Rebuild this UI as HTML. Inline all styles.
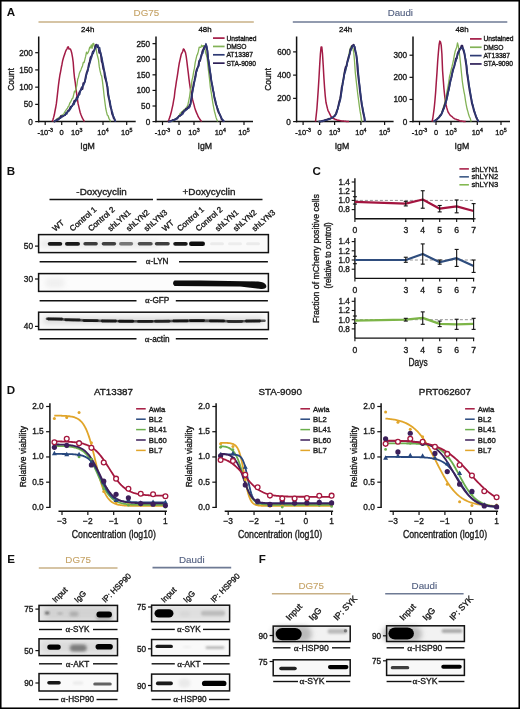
<!DOCTYPE html>
<html><head><meta charset="utf-8"><style>
html,body{margin:0;padding:0;background:#fff}
svg{display:block;will-change:transform;filter:blur(0.3px)}
text{font-family:"Liberation Sans", sans-serif}
</style></head><body>
<svg width="520" height="709" viewBox="0 0 520 709">
<rect x="0" y="0" width="520" height="709" fill="#fff"/>
<line x1="38.7" y1="36.5" x2="38.7" y2="122.3" stroke="#111" stroke-width="1.5"/>
<line x1="38" y1="121.6" x2="135.7" y2="121.6" stroke="#111" stroke-width="1.5"/>
<line x1="35.2" y1="121.6" x2="38.7" y2="121.6" stroke="#111" stroke-width="1.2"/>
<text x="32.9" y="124.55" font-size="8.2" fill="#1a1a1a" stroke="#1a1a1a" stroke-width="0.35" text-anchor="end">0</text>
<line x1="35.2" y1="104.38" x2="38.7" y2="104.38" stroke="#111" stroke-width="1.2"/>
<text x="32.9" y="107.33" font-size="8.2" fill="#1a1a1a" stroke="#1a1a1a" stroke-width="0.35" text-anchor="end">50</text>
<line x1="35.2" y1="87.15" x2="38.7" y2="87.15" stroke="#111" stroke-width="1.2"/>
<text x="32.9" y="90.1" font-size="8.2" fill="#1a1a1a" stroke="#1a1a1a" stroke-width="0.35" text-anchor="end">100</text>
<line x1="35.2" y1="69.92" x2="38.7" y2="69.92" stroke="#111" stroke-width="1.2"/>
<text x="32.9" y="72.88" font-size="8.2" fill="#1a1a1a" stroke="#1a1a1a" stroke-width="0.35" text-anchor="end">150</text>
<line x1="35.2" y1="52.7" x2="38.7" y2="52.7" stroke="#111" stroke-width="1.2"/>
<text x="32.9" y="55.65" font-size="8.2" fill="#1a1a1a" stroke="#1a1a1a" stroke-width="0.35" text-anchor="end">200</text>
<line x1="45.2" y1="121.6" x2="45.2" y2="125.1" stroke="#111" stroke-width="1.2"/>
<line x1="61.7" y1="121.6" x2="61.7" y2="125.1" stroke="#111" stroke-width="1.2"/>
<line x1="76.7" y1="121.6" x2="76.7" y2="125.1" stroke="#111" stroke-width="1.2"/>
<line x1="103" y1="121.6" x2="103" y2="125.1" stroke="#111" stroke-width="1.2"/>
<line x1="126.7" y1="121.6" x2="126.7" y2="125.1" stroke="#111" stroke-width="1.2"/>
<text x="45.2" y="135.2" font-size="7.5" fill="#1a1a1a" stroke="#1a1a1a" stroke-width="0.35" text-anchor="middle">-10<tspan font-size="5.3" dy="-3">-3</tspan></text>
<text x="61.7" y="135.2" font-size="7.5" fill="#1a1a1a" stroke="#1a1a1a" stroke-width="0.35" text-anchor="middle">0</text>
<text x="76.7" y="135.2" font-size="7.5" fill="#1a1a1a" stroke="#1a1a1a" stroke-width="0.35" text-anchor="middle">10<tspan font-size="5.3" dy="-3">3</tspan></text>
<text x="103" y="135.2" font-size="7.5" fill="#1a1a1a" stroke="#1a1a1a" stroke-width="0.35" text-anchor="middle">10<tspan font-size="5.3" dy="-3">4</tspan></text>
<text x="126.7" y="135.2" font-size="7.5" fill="#1a1a1a" stroke="#1a1a1a" stroke-width="0.35" text-anchor="middle">10<tspan font-size="5.3" dy="-3">5</tspan></text>
<text x="87.6" y="148.6" font-size="9" fill="#1a1a1a" stroke="#1a1a1a" stroke-width="0.35" text-anchor="middle" textLength="14.6" lengthAdjust="spacingAndGlyphs">IgM</text>
<line x1="156" y1="36.5" x2="156" y2="122.3" stroke="#111" stroke-width="1.5"/>
<line x1="155.3" y1="121.6" x2="253" y2="121.6" stroke="#111" stroke-width="1.5"/>
<line x1="152.5" y1="121.6" x2="156" y2="121.6" stroke="#111" stroke-width="1.2"/>
<text x="150.2" y="124.55" font-size="8.2" fill="#1a1a1a" stroke="#1a1a1a" stroke-width="0.35" text-anchor="end">0</text>
<line x1="152.5" y1="106.01" x2="156" y2="106.01" stroke="#111" stroke-width="1.2"/>
<text x="150.2" y="108.96" font-size="8.2" fill="#1a1a1a" stroke="#1a1a1a" stroke-width="0.35" text-anchor="end">50</text>
<line x1="152.5" y1="90.42" x2="156" y2="90.42" stroke="#111" stroke-width="1.2"/>
<text x="150.2" y="93.37" font-size="8.2" fill="#1a1a1a" stroke="#1a1a1a" stroke-width="0.35" text-anchor="end">100</text>
<line x1="152.5" y1="74.83" x2="156" y2="74.83" stroke="#111" stroke-width="1.2"/>
<text x="150.2" y="77.78" font-size="8.2" fill="#1a1a1a" stroke="#1a1a1a" stroke-width="0.35" text-anchor="end">150</text>
<line x1="152.5" y1="59.24" x2="156" y2="59.24" stroke="#111" stroke-width="1.2"/>
<text x="150.2" y="62.19" font-size="8.2" fill="#1a1a1a" stroke="#1a1a1a" stroke-width="0.35" text-anchor="end">200</text>
<line x1="152.5" y1="43.65" x2="156" y2="43.65" stroke="#111" stroke-width="1.2"/>
<text x="150.2" y="46.6" font-size="8.2" fill="#1a1a1a" stroke="#1a1a1a" stroke-width="0.35" text-anchor="end">250</text>
<line x1="162.5" y1="121.6" x2="162.5" y2="125.1" stroke="#111" stroke-width="1.2"/>
<line x1="179" y1="121.6" x2="179" y2="125.1" stroke="#111" stroke-width="1.2"/>
<line x1="194" y1="121.6" x2="194" y2="125.1" stroke="#111" stroke-width="1.2"/>
<line x1="220.3" y1="121.6" x2="220.3" y2="125.1" stroke="#111" stroke-width="1.2"/>
<line x1="244" y1="121.6" x2="244" y2="125.1" stroke="#111" stroke-width="1.2"/>
<text x="162.5" y="135.2" font-size="7.5" fill="#1a1a1a" stroke="#1a1a1a" stroke-width="0.35" text-anchor="middle">-10<tspan font-size="5.3" dy="-3">-3</tspan></text>
<text x="179" y="135.2" font-size="7.5" fill="#1a1a1a" stroke="#1a1a1a" stroke-width="0.35" text-anchor="middle">0</text>
<text x="194" y="135.2" font-size="7.5" fill="#1a1a1a" stroke="#1a1a1a" stroke-width="0.35" text-anchor="middle">10<tspan font-size="5.3" dy="-3">3</tspan></text>
<text x="220.3" y="135.2" font-size="7.5" fill="#1a1a1a" stroke="#1a1a1a" stroke-width="0.35" text-anchor="middle">10<tspan font-size="5.3" dy="-3">4</tspan></text>
<text x="244" y="135.2" font-size="7.5" fill="#1a1a1a" stroke="#1a1a1a" stroke-width="0.35" text-anchor="middle">10<tspan font-size="5.3" dy="-3">5</tspan></text>
<text x="204.8" y="148.6" font-size="9" fill="#1a1a1a" stroke="#1a1a1a" stroke-width="0.35" text-anchor="middle" textLength="14.6" lengthAdjust="spacingAndGlyphs">IgM</text>
<line x1="296.6" y1="36.5" x2="296.6" y2="122.3" stroke="#111" stroke-width="1.5"/>
<line x1="295.9" y1="121.6" x2="393.6" y2="121.6" stroke="#111" stroke-width="1.5"/>
<line x1="293.1" y1="121.6" x2="296.6" y2="121.6" stroke="#111" stroke-width="1.2"/>
<text x="290.8" y="124.55" font-size="8.2" fill="#1a1a1a" stroke="#1a1a1a" stroke-width="0.35" text-anchor="end">0</text>
<line x1="293.1" y1="98.36" x2="296.6" y2="98.36" stroke="#111" stroke-width="1.2"/>
<text x="290.8" y="101.31" font-size="8.2" fill="#1a1a1a" stroke="#1a1a1a" stroke-width="0.35" text-anchor="end">200</text>
<line x1="293.1" y1="75.12" x2="296.6" y2="75.12" stroke="#111" stroke-width="1.2"/>
<text x="290.8" y="78.07" font-size="8.2" fill="#1a1a1a" stroke="#1a1a1a" stroke-width="0.35" text-anchor="end">400</text>
<line x1="293.1" y1="51.88" x2="296.6" y2="51.88" stroke="#111" stroke-width="1.2"/>
<text x="290.8" y="54.83" font-size="8.2" fill="#1a1a1a" stroke="#1a1a1a" stroke-width="0.35" text-anchor="end">600</text>
<line x1="303.1" y1="121.6" x2="303.1" y2="125.1" stroke="#111" stroke-width="1.2"/>
<line x1="319.6" y1="121.6" x2="319.6" y2="125.1" stroke="#111" stroke-width="1.2"/>
<line x1="334.6" y1="121.6" x2="334.6" y2="125.1" stroke="#111" stroke-width="1.2"/>
<line x1="360.9" y1="121.6" x2="360.9" y2="125.1" stroke="#111" stroke-width="1.2"/>
<line x1="384.6" y1="121.6" x2="384.6" y2="125.1" stroke="#111" stroke-width="1.2"/>
<text x="303.1" y="135.2" font-size="7.5" fill="#1a1a1a" stroke="#1a1a1a" stroke-width="0.35" text-anchor="middle">-10<tspan font-size="5.3" dy="-3">-3</tspan></text>
<text x="319.6" y="135.2" font-size="7.5" fill="#1a1a1a" stroke="#1a1a1a" stroke-width="0.35" text-anchor="middle">0</text>
<text x="334.6" y="135.2" font-size="7.5" fill="#1a1a1a" stroke="#1a1a1a" stroke-width="0.35" text-anchor="middle">10<tspan font-size="5.3" dy="-3">3</tspan></text>
<text x="360.9" y="135.2" font-size="7.5" fill="#1a1a1a" stroke="#1a1a1a" stroke-width="0.35" text-anchor="middle">10<tspan font-size="5.3" dy="-3">4</tspan></text>
<text x="384.6" y="135.2" font-size="7.5" fill="#1a1a1a" stroke="#1a1a1a" stroke-width="0.35" text-anchor="middle">10<tspan font-size="5.3" dy="-3">5</tspan></text>
<text x="342" y="148.6" font-size="9" fill="#1a1a1a" stroke="#1a1a1a" stroke-width="0.35" text-anchor="middle" textLength="14.6" lengthAdjust="spacingAndGlyphs">IgM</text>
<line x1="413" y1="36.5" x2="413" y2="122.3" stroke="#111" stroke-width="1.5"/>
<line x1="412.3" y1="121.6" x2="510" y2="121.6" stroke="#111" stroke-width="1.5"/>
<line x1="409.5" y1="121.6" x2="413" y2="121.6" stroke="#111" stroke-width="1.2"/>
<text x="407.2" y="124.55" font-size="8.2" fill="#1a1a1a" stroke="#1a1a1a" stroke-width="0.35" text-anchor="end">0</text>
<line x1="409.5" y1="99.47" x2="413" y2="99.47" stroke="#111" stroke-width="1.2"/>
<text x="407.2" y="102.42" font-size="8.2" fill="#1a1a1a" stroke="#1a1a1a" stroke-width="0.35" text-anchor="end">100</text>
<line x1="409.5" y1="77.34" x2="413" y2="77.34" stroke="#111" stroke-width="1.2"/>
<text x="407.2" y="80.29" font-size="8.2" fill="#1a1a1a" stroke="#1a1a1a" stroke-width="0.35" text-anchor="end">200</text>
<line x1="409.5" y1="55.21" x2="413" y2="55.21" stroke="#111" stroke-width="1.2"/>
<text x="407.2" y="58.16" font-size="8.2" fill="#1a1a1a" stroke="#1a1a1a" stroke-width="0.35" text-anchor="end">300</text>
<line x1="419.5" y1="121.6" x2="419.5" y2="125.1" stroke="#111" stroke-width="1.2"/>
<line x1="436" y1="121.6" x2="436" y2="125.1" stroke="#111" stroke-width="1.2"/>
<line x1="451" y1="121.6" x2="451" y2="125.1" stroke="#111" stroke-width="1.2"/>
<line x1="477.3" y1="121.6" x2="477.3" y2="125.1" stroke="#111" stroke-width="1.2"/>
<line x1="501" y1="121.6" x2="501" y2="125.1" stroke="#111" stroke-width="1.2"/>
<text x="419.5" y="135.2" font-size="7.5" fill="#1a1a1a" stroke="#1a1a1a" stroke-width="0.35" text-anchor="middle">-10<tspan font-size="5.3" dy="-3">-3</tspan></text>
<text x="436" y="135.2" font-size="7.5" fill="#1a1a1a" stroke="#1a1a1a" stroke-width="0.35" text-anchor="middle">0</text>
<text x="451" y="135.2" font-size="7.5" fill="#1a1a1a" stroke="#1a1a1a" stroke-width="0.35" text-anchor="middle">10<tspan font-size="5.3" dy="-3">3</tspan></text>
<text x="477.3" y="135.2" font-size="7.5" fill="#1a1a1a" stroke="#1a1a1a" stroke-width="0.35" text-anchor="middle">10<tspan font-size="5.3" dy="-3">4</tspan></text>
<text x="501" y="135.2" font-size="7.5" fill="#1a1a1a" stroke="#1a1a1a" stroke-width="0.35" text-anchor="middle">10<tspan font-size="5.3" dy="-3">5</tspan></text>
<text x="461.9" y="148.6" font-size="9" fill="#1a1a1a" stroke="#1a1a1a" stroke-width="0.35" text-anchor="middle" textLength="14.6" lengthAdjust="spacingAndGlyphs">IgM</text>
<text x="13.6" y="79.4" font-size="9.6" fill="#1a1a1a" stroke="#1a1a1a" stroke-width="0.35" text-anchor="middle" textLength="22.8" lengthAdjust="spacingAndGlyphs" transform="rotate(-90 13.6 79.4)">Count</text>
<text x="271.1" y="79.4" font-size="9.6" fill="#1a1a1a" stroke="#1a1a1a" stroke-width="0.35" text-anchor="middle" textLength="22.8" lengthAdjust="spacingAndGlyphs" transform="rotate(-90 271.1 79.4)">Count</text>
<text x="87.7" y="32.3" font-size="7.9" fill="#1a1a1a" stroke="#1a1a1a" stroke-width="0.35" text-anchor="middle">24h</text>
<text x="205" y="32.3" font-size="7.9" fill="#1a1a1a" stroke="#1a1a1a" stroke-width="0.35" text-anchor="middle">48h</text>
<text x="345.6" y="32.3" font-size="7.9" fill="#1a1a1a" stroke="#1a1a1a" stroke-width="0.35" text-anchor="middle">24h</text>
<text x="462" y="32.3" font-size="7.9" fill="#1a1a1a" stroke="#1a1a1a" stroke-width="0.35" text-anchor="middle">48h</text>
<text x="146.4" y="16.2" font-size="9.8" fill="#c6a468" text-anchor="middle" stroke="#c6a468" stroke-width="0.12">DG75</text>
<line x1="38.5" y1="22" x2="253.8" y2="22" stroke="#c8b086" stroke-width="1.5"/>
<text x="400.3" y="16.3" font-size="9.7" fill="#4f5d7f" text-anchor="middle" stroke="#4f5d7f" stroke-width="0.12">Daudi</text>
<line x1="292.8" y1="22" x2="507.3" y2="22" stroke="#6e7a94" stroke-width="1.5"/>
<polyline points="52.2,121.6 52.9,119.72 53.6,117.38 54.3,114.82 55,111.01 55.7,107.51 56.4,103.42 57.1,97.33 57.8,91.08 58.5,84.88 59.2,79.58 59.9,75 60.6,71.62 61.3,67.53 62,64.22 62.7,60.45 63.4,57.99 64.1,55.78 64.8,53.87 65.5,51.63 66.2,49.97 66.9,49.12 67.6,47.24 68.3,46.81 69,49.06 69.7,49.07 70.4,48.95 71.1,50.77 71.8,53.3 72.5,57.08 73.2,62.24 73.9,71.9 74.6,78.48 75.3,82.98 76,89.03 76.7,94.1 77.4,99.18 78.1,103.67 78.8,106.6 79.5,109.59 80.2,112.52 80.9,114.58 81.6,116.25 82.3,117.96 83,119.23 83.7,120.4 84.4,121.6" fill="none" stroke="#a31b46" stroke-width="1.5" stroke-linejoin="round"/>
<polyline points="53.7,121.6 54.5,121.17 55.3,120.6 56.1,120.6 56.9,118.8 57.7,118.36 58.5,118.23 59.3,117.23 60.1,116.79 60.9,116.49 61.7,115.16 62.5,114.96 63.3,114.12 64.1,113.39 64.9,111.68 65.7,110.8 66.5,109.17 67.3,108.51 68.1,106.67 68.9,105.89 69.7,103.25 70.5,102.18 71.3,100.48 72.1,98.71 72.9,97.99 73.7,94.55 74.5,91.24 75.3,91.77 76.1,88.64 76.9,84.97 77.7,79.28 78.5,77.16 79.3,73.61 80.1,71.6 80.9,69.91 81.7,67.62 82.5,65.95 83.3,62.47 84.1,62.54 84.9,59.29 85.7,56.18 86.5,52.15 87.3,53.75 88.1,52.59 88.9,50.48 89.7,47.19 90.5,47.82 91.3,44.84 92.1,48.38 92.9,43.64 93.7,43.41 94.5,47.19 95.3,47.2 96.1,48.85 96.9,53.58 97.7,56.73 98.5,59.92 99.3,66.92 100.1,71 100.9,74.43 101.7,76.14 102.5,81.67 103.3,88.33 104.1,95.75 104.9,102.13 105.7,108.24 106.5,111.9 107.3,115.07 108.1,115.79 108.9,118.3 109.7,119.68 110.5,121.6" fill="none" stroke="#82b256" stroke-width="1.3" stroke-linejoin="round"/>
<polyline points="53.7,121.6 54.5,121.6 55.3,120.61 56.1,120.4 56.9,119.91 57.7,119.37 58.5,119.46 59.3,118.39 60.1,118.13 60.9,116.1 61.7,116.76 62.5,116.47 63.3,115.91 64.1,115.49 64.9,115.04 65.7,114.03 66.5,112.81 67.3,112.28 68.1,110.69 68.9,110.3 69.7,109.1 70.5,107.07 71.3,106.52 72.1,106.01 72.9,104.62 73.7,102.92 74.5,100.66 75.3,100.92 76.1,99.54 76.9,97.16 77.7,97.17 78.5,95.16 79.3,92.57 80.1,91.15 80.9,89.86 81.7,87.54 82.5,88.93 83.3,83.28 84.1,83.08 84.9,81.53 85.7,77.01 86.5,73.41 87.3,71.18 88.1,68.45 88.9,64.1 89.7,61.68 90.5,57.6 91.3,56.28 92.1,54.88 92.9,51.53 93.7,50.97 94.5,49.88 95.3,46.14 96.1,44.65 96.9,45.48 97.7,47.17 98.5,47.19 99.3,52.83 100.1,51.39 100.9,54.82 101.7,61.37 102.5,63.52 103.3,68.83 104.1,70.56 104.9,77.16 105.7,79.75 106.5,82.53 107.3,87.01 108.1,94.93 108.9,98.43 109.7,102.41 110.5,107.04 111.3,109.2 112.1,113.75 112.9,115.58 113.7,118.17 114.5,119.2 115.3,121.6" fill="none" stroke="#2e2058" stroke-width="1.9" stroke-linejoin="round"/>
<polyline points="54.1,121.6 54.9,121.2 55.7,120.31 56.5,120.08 57.3,120.25 58.1,119.3 58.9,119.01 59.7,118.26 60.5,118.4 61.3,117.25 62.1,116.75 62.9,115.7 63.7,115.66 64.5,114.98 65.3,115.23 66.1,112.78 66.9,113.99 67.7,111.59 68.5,111.38 69.3,110.68 70.1,109.5 70.9,108.41 71.7,106.62 72.5,105.76 73.3,103.51 74.1,104.55 74.9,102.04 75.7,101.38 76.5,98.77 77.3,99.59 78.1,96.73 78.9,94.75 79.7,94.57 80.5,90.8 81.3,89.78 82.1,87.23 82.9,85.36 83.7,85.21 84.5,82.92 85.3,80.04 86.1,76.52 86.9,73.25 87.7,71.47 88.5,67.91 89.3,65.09 90.1,62.33 90.9,59.64 91.7,57.38 92.5,52.5 93.3,53.63 94.1,51.08 94.9,48.03 95.7,48.23 96.5,45.95 97.3,45.17 98.1,45.05 98.9,49.28 99.7,47.68 100.5,52.75 101.3,55.23 102.1,58.29 102.9,62.8 103.7,66.5 104.5,71.21 105.3,74.99 106.1,78.48 106.9,84.2 107.7,86.96 108.5,93.76 109.3,99.02 110.1,101.2 110.9,106.74 111.7,110.75 112.5,112.27 113.3,115.87 114.1,117.42 114.9,119.85 115.7,121.6" fill="none" stroke="#2e3a74" stroke-width="1.4" stroke-linejoin="round"/>
<polyline points="168,121.6 168.7,120.07 169.4,118.24 170.1,116.35 170.8,113.81 171.5,111.12 172.2,107.85 172.9,104.87 173.6,100.68 174.3,97.02 175,90.69 175.7,86.37 176.4,81.31 177.1,77.26 177.8,72.85 178.5,67.94 179.2,63.53 179.9,60.38 180.6,57.27 181.3,54.07 182,52.77 182.7,51.51 183.4,48.95 184.1,49.3 184.8,51.21 185.5,52.56 186.2,56.32 186.9,61.59 187.6,67.71 188.3,73.1 189,79.08 189.7,84.37 190.4,88.82 191.1,92.22 191.8,95.63 192.5,99.23 193.2,101.88 193.9,104.4 194.6,107.23 195.3,109.64 196,111.37 196.7,113.2 197.4,114.57 198.1,116.4 198.8,117.55 199.5,118.74 200.2,119.9 200.9,120.55 201.6,121.6" fill="none" stroke="#a31b46" stroke-width="1.5" stroke-linejoin="round"/>
<polyline points="168,121.6 168.8,121.36 169.6,121.31 170.4,121.13 171.2,120.7 172,121.07 172.8,120.63 173.6,120.49 174.4,119.81 175.2,119.1 176,118.88 176.8,118.02 177.6,118.07 178.4,116.38 179.2,115.84 180,113.63 180.8,113 181.6,111.98 182.4,111.6 183.2,110.46 184,109.69 184.8,109.49 185.6,108.71 186.4,107.41 187.2,106.38 188,104.21 188.8,100.45 189.6,96.31 190.4,90.03 191.2,87.17 192,80.17 192.8,77.11 193.6,72.23 194.4,68.42 195.2,62.62 196,59.08 196.8,55.65 197.6,54.11 198.4,51.2 199.2,47.16 200,47.34 200.8,47.46 201.6,45.21 202.4,46.67 203.2,45.69 204,45.67 204.8,47.82 205.6,52.83 206.4,55 207.2,58.55 208,66.32 208.8,73.3 209.6,80.01 210.4,87.68 211.2,92.05 212,97.37 212.8,102.84 213.6,107.19 214.4,111.22 215.2,114.03 216,117.38 216.8,119.51 217.6,121.6" fill="none" stroke="#82b256" stroke-width="1.3" stroke-linejoin="round"/>
<polyline points="168,121.6 168.8,121.6 169.6,121.22 170.4,121.21 171.2,120.7 172,120.64 172.8,119.97 173.6,120.1 174.4,119.91 175.2,119.23 176,118.83 176.8,118.55 177.6,117.88 178.4,116.82 179.2,116.05 180,115.75 180.8,114.89 181.6,114.75 182.4,112.26 183.2,112.4 184,110.84 184.8,110.67 185.6,109.2 186.4,108.77 187.2,108.75 188,107.21 188.8,107.66 189.6,104.99 190.4,104.38 191.2,99.03 192,93.39 192.8,88.77 193.6,84.4 194.4,80.94 195.2,77.06 196,72.29 196.8,69.33 197.6,67.68 198.4,66.02 199.2,61.02 200,61.05 200.8,57.44 201.6,55.31 202.4,51.16 203.2,49.84 204,47.75 204.8,46.22 205.6,46.48 206.4,46.31 207.2,50.36 208,58.05 208.8,62.81 209.6,69.86 210.4,74.66 211.2,80.33 212,84.67 212.8,89.45 213.6,92.38 214.4,97.77 215.2,101.15 216,104.42 216.8,106.43 217.6,109.74 218.4,112.06 219.2,113.43 220,115 220.8,116.78 221.6,119.29 222.4,119.89 223.2,120.91 224,121.6" fill="none" stroke="#2e2058" stroke-width="1.9" stroke-linejoin="round"/>
<polyline points="168.4,121.6 169.2,121.6 170,121.6 170.8,121.6 171.6,121.08 172.4,120.43 173.2,120.42 174,119.97 174.8,119.47 175.6,119.67 176.4,118.13 177.2,118.72 178,117.66 178.8,116.05 179.6,116.38 180.4,115.49 181.2,114.95 182,113.74 182.8,114.12 183.6,112.62 184.4,110.66 185.2,110.78 186,110.42 186.8,109.44 187.6,108.7 188.4,108.01 189.2,106.71 190,106.87 190.8,102.95 191.6,99.8 192.4,93.62 193.2,88.99 194,85.02 194.8,80.19 195.6,77.76 196.4,72.33 197.2,70.37 198,66.38 198.8,65.87 199.6,59.87 200.4,59.63 201.2,55.04 202,53.27 202.8,53.57 203.6,49.73 204.4,49.1 205.2,46.04 206,43.59 206.8,46.1 207.6,50.81 208.4,59.47 209.2,63.32 210,69.31 210.8,74.59 211.6,81.62 212.4,84.96 213.2,89.38 214,95.04 214.8,98.3 215.6,100.59 216.4,104.82 217.2,107.58 218,108.87 218.8,111.57 219.6,113.89 220.4,115.45 221.2,117.15 222,118.57 222.8,119.75 223.6,120.56 224.4,121.6" fill="none" stroke="#2e3a74" stroke-width="1.4" stroke-linejoin="round"/>
<polyline points="315.5,121.6 316.2,115.39 316.9,108.79 317.6,99.08 318.3,88.86 319,77.44 319.7,64.84 320.4,53.71 321.1,46.92 321.8,46.94 322.5,53.85 323.2,65.09 323.9,77.68 324.6,88.14 325.3,96.46 326,102.51 326.7,105.42 327.4,108.27 328.1,110.85 328.8,111.88 329.5,113.44 330.2,114.82 330.9,116.17 331.6,116.98 332.3,117.78 333,118.16 333.7,118.67 334.4,118.79 335.1,119.43 335.8,119.52 336.5,119.74 337.2,120.1 337.9,120.31 338.6,120.18 339.3,120.37 340,120.58 340.7,120.64 341.4,120.88 342.1,120.9 342.8,121.1 343.5,121.12 344.2,121.13 344.9,121.35 345.6,121.31 346.3,121.56 347,121.54 347.7,121.6 348.4,121.59 349.1,121.6" fill="none" stroke="#a31b46" stroke-width="1.5" stroke-linejoin="round"/>
<polyline points="318.5,121.6 319.3,121.6 320.1,121.56 320.9,121.35 321.7,120.93 322.5,121.15 323.3,120.61 324.1,120.35 324.9,120.37 325.7,120.2 326.5,119.78 327.3,119.41 328.1,118.99 328.9,118.93 329.7,118.49 330.5,118.55 331.3,118.25 332.1,118 332.9,117.39 333.7,116.64 334.5,115.84 335.3,115.22 336.1,112.94 336.9,110.96 337.7,108.49 338.5,105.64 339.3,101.46 340.1,98.57 340.9,94.52 341.7,89.52 342.5,82.8 343.3,79.38 344.1,74.19 344.9,70.65 345.7,70.13 346.5,64.65 347.3,62.49 348.1,59.16 348.9,54.49 349.7,50.35 350.5,47.68 351.3,46.08 352.1,47.75 352.9,48.55 353.7,52.04 354.5,61.05 355.3,72.6 356.1,79.88 356.9,86.68 357.7,93.75 358.5,99.7 359.3,105.8 360.1,111.46 360.9,115.89 361.7,121.6" fill="none" stroke="#82b256" stroke-width="1.3" stroke-linejoin="round"/>
<polyline points="318.5,121.6 319.3,121.49 320.1,121.41 320.9,121.56 321.7,121.06 322.5,121.22 323.3,120.62 324.1,120.45 324.9,120.19 325.7,119.96 326.5,119.8 327.3,119.71 328.1,119.42 328.9,118.82 329.7,118.91 330.5,118.5 331.3,118.22 332.1,117.75 332.9,117.2 333.7,116.49 334.5,115.96 335.3,114.97 336.1,113.35 336.9,110.9 337.7,108.74 338.5,105.33 339.3,101.75 340.1,98.99 340.9,94.1 341.7,87.51 342.5,84.42 343.3,80.01 344.1,75.21 344.9,70.3 345.7,66.96 346.5,66.17 347.3,61.88 348.1,59.03 348.9,56.08 349.7,53.99 350.5,49.2 351.3,48.56 352.1,45.88 352.9,45.44 353.7,44.73 354.5,46.98 355.3,51.23 356.1,53.68 356.9,59.97 357.7,71.07 358.5,78.34 359.3,85.01 360.1,92.67 360.9,98.63 361.7,104.32 362.5,108.61 363.3,113.23 364.1,116.36 364.9,121.6" fill="none" stroke="#2e2058" stroke-width="1.9" stroke-linejoin="round"/>
<polyline points="318.9,121.6 319.7,121.48 320.5,121.55 321.3,121.3 322.1,121.16 322.9,120.97 323.7,120.66 324.5,120.72 325.3,120.17 326.1,120.27 326.9,119.88 327.7,119.46 328.5,119.25 329.3,119.22 330.1,118.46 330.9,118.39 331.7,118.27 332.5,117.63 333.3,117.32 334.1,116.45 334.9,116.22 335.7,114.75 336.5,113.68 337.3,110.58 338.1,108.17 338.9,104.82 339.7,102.6 340.5,99.59 341.3,94.75 342.1,89.14 342.9,82.73 343.7,78.68 344.5,74.11 345.3,72.06 346.1,68.69 346.9,65.55 347.7,61.46 348.5,59.44 349.3,55.85 350.1,51.25 350.9,50.68 351.7,47.9 352.5,47.2 353.3,45.7 354.1,45.56 354.9,46.96 355.7,51.42 356.5,55.4 357.3,60.33 358.1,69.08 358.9,78.52 359.7,84.99 360.5,91.83 361.3,99.05 362.1,104.71 362.9,108.73 363.7,112.93 364.5,116.93 365.3,121.6" fill="none" stroke="#2e3a74" stroke-width="1.4" stroke-linejoin="round"/>
<polyline points="432.1,121.6 432.8,118.26 433.5,113.45 434.2,108.09 434.9,101.05 435.6,92.6 436.3,82.17 437,72.42 437.7,60.96 438.4,52.36 439.1,44.74 439.8,41.1 440.5,41.99 441.2,45.17 441.9,53.74 442.6,70.98 443.3,80.41 444,89.23 444.7,95.96 445.4,101.33 446.1,105.01 446.8,107.89 447.5,110.23 448.2,112.29 448.9,113.24 449.6,114.51 450.3,115.34 451,115.87 451.7,116.3 452.4,116.95 453.1,117.73 453.8,118.25 454.5,118.7 455.2,118.93 455.9,119.13 456.6,119.52 457.3,119.68 458,119.98 458.7,120.07 459.4,120.71 460.1,120.93 460.8,120.9 461.5,120.99 462.2,121.25 462.9,121.3 463.6,121.56 464.3,121.6 465,121.6 465.7,121.6" fill="none" stroke="#a31b46" stroke-width="1.5" stroke-linejoin="round"/>
<polyline points="433.5,121.6 434.3,121.02 435.1,120.58 435.9,119.87 436.7,119.45 437.5,119.04 438.3,117.64 439.1,117.08 439.9,116.71 440.7,115.25 441.5,113.43 442.3,111.02 443.1,108.2 443.9,105.83 444.7,103.22 445.5,99.59 446.3,95.9 447.1,91.18 447.9,86.88 448.7,82.5 449.5,76.6 450.3,73.74 451.1,69.91 451.9,67 452.7,63.58 453.5,59.89 454.3,55.4 455.1,51.51 455.9,49.18 456.7,47.27 457.5,42.93 458.3,46 459.1,50.66 459.9,57.74 460.7,65.08 461.5,73.19 462.3,81.27 463.1,86.56 463.9,91.26 464.7,95.16 465.5,100.55 466.3,105.24 467.1,109.06 467.9,111.66 468.7,114.82 469.5,116.97 470.3,118.55 471.1,121.6" fill="none" stroke="#82b256" stroke-width="1.3" stroke-linejoin="round"/>
<polyline points="433.5,121.6 434.3,121.19 435.1,120.49 435.9,119.97 436.7,119.61 437.5,118.48 438.3,117.98 439.1,117.02 439.9,115.76 440.7,114.97 441.5,113.85 442.3,111.98 443.1,109.4 443.9,108.04 444.7,105.02 445.5,102.46 446.3,100.34 447.1,96.44 447.9,92.57 448.7,89.37 449.5,85.26 450.3,80.8 451.1,78.28 451.9,74.77 452.7,70.48 453.5,68.07 454.3,66.26 455.1,62.55 455.9,58.5 456.7,58.37 457.5,54.12 458.3,51.95 459.1,50.95 459.9,48.79 460.7,48.42 461.5,45.75 462.3,45.61 463.1,49.51 463.9,51.81 464.7,55.04 465.5,60.38 466.3,65.59 467.1,73.69 467.9,78.64 468.7,84.7 469.5,89.77 470.3,94.33 471.1,98.5 471.9,103.15 472.7,105.86 473.5,108.93 474.3,111.97 475.1,113.86 475.9,116.55 476.7,118.38 477.5,119.88 478.3,121.6" fill="none" stroke="#2e2058" stroke-width="1.9" stroke-linejoin="round"/>
<polyline points="433.9,121.6 434.7,121.28 435.5,120.2 436.3,119.9 437.1,119.22 437.9,118.71 438.7,117.95 439.5,117.08 440.3,116.16 441.1,115.19 441.9,113.37 442.7,111.62 443.5,109.78 444.3,107.77 445.1,105.46 445.9,103.04 446.7,99.71 447.5,96.69 448.3,92.41 449.1,89.43 449.9,84.58 450.7,81.1 451.5,77.83 452.3,73.54 453.1,71.01 453.9,67.59 454.7,64.52 455.5,62.21 456.3,60.27 457.1,57.12 457.9,53.98 458.7,53.01 459.5,50.39 460.3,49.42 461.1,48.27 461.9,47.43 462.7,47.84 463.5,49.03 464.3,51.35 465.1,56.63 465.9,60.21 466.7,65.69 467.5,73.28 468.3,78.54 469.1,84.99 469.9,89.37 470.7,94.17 471.5,98.75 472.3,103.06 473.1,105.51 473.9,109.32 474.7,111.79 475.5,114.54 476.3,116.54 477.1,118.2 477.9,120.17 478.7,121.6" fill="none" stroke="#2e3a74" stroke-width="1.4" stroke-linejoin="round"/>
<line x1="213" y1="38.1" x2="224.6" y2="38.1" stroke="#a31b46" stroke-width="1.7"/>
<text x="226.4" y="40.5" font-size="6.7" fill="#1a1a1a" stroke="#1a1a1a" stroke-width="0.35">Unstained</text>
<line x1="213" y1="46.45" x2="224.6" y2="46.45" stroke="#82b256" stroke-width="1.7"/>
<text x="226.4" y="48.85" font-size="6.7" fill="#1a1a1a" stroke="#1a1a1a" stroke-width="0.35">DMSO</text>
<line x1="213" y1="54.8" x2="224.6" y2="54.8" stroke="#2e3a74" stroke-width="1.7"/>
<text x="226.4" y="57.2" font-size="6.7" fill="#1a1a1a" stroke="#1a1a1a" stroke-width="0.35">AT13387</text>
<line x1="213" y1="63.15" x2="224.6" y2="63.15" stroke="#2e2058" stroke-width="1.7"/>
<text x="226.4" y="65.55" font-size="6.7" fill="#1a1a1a" stroke="#1a1a1a" stroke-width="0.35">STA-9090</text>
<line x1="470" y1="38.9" x2="481.6" y2="38.9" stroke="#a31b46" stroke-width="1.7"/>
<text x="483.4" y="41.3" font-size="6.7" fill="#1a1a1a" stroke="#1a1a1a" stroke-width="0.35">Unstained</text>
<line x1="470" y1="47.25" x2="481.6" y2="47.25" stroke="#82b256" stroke-width="1.7"/>
<text x="483.4" y="49.65" font-size="6.7" fill="#1a1a1a" stroke="#1a1a1a" stroke-width="0.35">DMSO</text>
<line x1="470" y1="55.6" x2="481.6" y2="55.6" stroke="#2e3a74" stroke-width="1.7"/>
<text x="483.4" y="58" font-size="6.7" fill="#1a1a1a" stroke="#1a1a1a" stroke-width="0.35">AT13387</text>
<line x1="470" y1="63.95" x2="481.6" y2="63.95" stroke="#2e2058" stroke-width="1.7"/>
<text x="483.4" y="66.35" font-size="6.7" fill="#1a1a1a" stroke="#1a1a1a" stroke-width="0.35">STA-9090</text>
<defs><filter id="bl1" x="-20%" y="-50%" width="140%" height="200%"><feGaussianBlur stdDeviation="0.7"/></filter><filter id="bl2" x="-20%" y="-50%" width="140%" height="200%"><feGaussianBlur stdDeviation="1.1"/></filter><filter id="bl3" x="-20%" y="-50%" width="140%" height="200%"><feGaussianBlur stdDeviation="1.8"/></filter><filter id="bl4" x="-30%" y="-80%" width="160%" height="260%"><feGaussianBlur stdDeviation="2.6"/></filter></defs>
<text x="101.6" y="195" font-size="9.9" fill="#1a1a1a" stroke="#1a1a1a" stroke-width="0.35" text-anchor="middle">-Doxycyclin</text>
<text x="209" y="194.8" font-size="9.9" fill="#1a1a1a" stroke="#1a1a1a" stroke-width="0.35" text-anchor="middle">+Doxycyclin</text>
<line x1="49.5" y1="199.5" x2="153" y2="199.5" stroke="#111" stroke-width="1.4"/>
<line x1="156.7" y1="199.5" x2="262.5" y2="199.5" stroke="#111" stroke-width="1.4"/>
<text x="55.2" y="231.7" font-size="8" fill="#1a1a1a" stroke="#1a1a1a" stroke-width="0.35" transform="rotate(-41 55.2 231.7)">WT</text>
<text x="72.6" y="231.7" font-size="8" fill="#1a1a1a" stroke="#1a1a1a" stroke-width="0.35" transform="rotate(-41 72.6 231.7)">Control 1</text>
<text x="90.9" y="231.7" font-size="8" fill="#1a1a1a" stroke="#1a1a1a" stroke-width="0.35" transform="rotate(-41 90.9 231.7)">Control 2</text>
<text x="110.4" y="231.7" font-size="8" fill="#1a1a1a" stroke="#1a1a1a" stroke-width="0.35" transform="rotate(-41 110.4 231.7)">shLYN1</text>
<text x="128.9" y="231.7" font-size="8" fill="#1a1a1a" stroke="#1a1a1a" stroke-width="0.35" transform="rotate(-41 128.9 231.7)">shLYN2</text>
<text x="146.8" y="231.7" font-size="8" fill="#1a1a1a" stroke="#1a1a1a" stroke-width="0.35" transform="rotate(-41 146.8 231.7)">shLYN3</text>
<text x="165" y="231.7" font-size="8" fill="#1a1a1a" stroke="#1a1a1a" stroke-width="0.35" transform="rotate(-41 165 231.7)">WT</text>
<text x="180" y="231.7" font-size="8" fill="#1a1a1a" stroke="#1a1a1a" stroke-width="0.35" transform="rotate(-41 180 231.7)">Control 1</text>
<text x="198.6" y="231.7" font-size="8" fill="#1a1a1a" stroke="#1a1a1a" stroke-width="0.35" transform="rotate(-41 198.6 231.7)">Control 2</text>
<text x="218" y="231.7" font-size="8" fill="#1a1a1a" stroke="#1a1a1a" stroke-width="0.35" transform="rotate(-41 218 231.7)">shLYN1</text>
<text x="236" y="231.7" font-size="8" fill="#1a1a1a" stroke="#1a1a1a" stroke-width="0.35" transform="rotate(-41 236 231.7)">shLYN2</text>
<text x="254.8" y="231.7" font-size="8" fill="#1a1a1a" stroke="#1a1a1a" stroke-width="0.35" transform="rotate(-41 254.8 231.7)">shLYN3</text>
<rect x="38.6" y="234.6" width="229.8" height="18" fill="#fafafa" stroke="none"/>
<rect x="40" y="240.5" width="120" height="7" rx="3.5" fill="#bbb" fill-opacity="0.25" filter="url(#bl4)"/>
<rect x="47.75" y="241.9" width="14.5" height="3.8" rx="1.9" fill="#111" fill-opacity="0.95" filter="url(#bl1)"/>
<rect x="65" y="241.9" width="15" height="3.8" rx="1.9" fill="#111" fill-opacity="0.95" filter="url(#bl1)"/>
<rect x="83.35" y="242" width="14.5" height="3.6" rx="1.8" fill="#111" fill-opacity="0.8" filter="url(#bl1)"/>
<rect x="101.65" y="242" width="14.5" height="3.6" rx="1.8" fill="#111" fill-opacity="0.78" filter="url(#bl1)"/>
<rect x="119.1" y="242.1" width="14" height="3.4" rx="1.7" fill="#111" fill-opacity="0.55" filter="url(#bl1)"/>
<rect x="137.7" y="242" width="15" height="3.6" rx="1.8" fill="#111" fill-opacity="0.72" filter="url(#bl1)"/>
<rect x="154.8" y="242" width="15" height="3.6" rx="1.8" fill="#111" fill-opacity="0.8" filter="url(#bl1)"/>
<rect x="173.25" y="241.9" width="14.5" height="3.8" rx="1.9" fill="#111" fill-opacity="0.95" filter="url(#bl1)"/>
<rect x="189" y="241.6" width="16" height="4.4" rx="2.2" fill="#111" fill-opacity="1" filter="url(#bl1)"/>
<rect x="210" y="242.3" width="14" height="3" rx="1.5" fill="#111" fill-opacity="0.06" filter="url(#bl1)"/>
<rect x="228" y="242.3" width="14" height="3" rx="1.5" fill="#111" fill-opacity="0.05" filter="url(#bl1)"/>
<rect x="246" y="242.3" width="14" height="3" rx="1.5" fill="#111" fill-opacity="0.06" filter="url(#bl1)"/>
<rect x="38.6" y="234.6" width="229.8" height="18" fill="none" stroke="#111" stroke-width="1.5"/>
<line x1="35" y1="246.1" x2="38.6" y2="246.1" stroke="#111" stroke-width="1.2"/>
<text x="33" y="249.1" font-size="8.3" fill="#1a1a1a" stroke="#1a1a1a" stroke-width="0.35" text-anchor="end">50</text>
<line x1="39.6" y1="261.7" x2="136.5" y2="261.7" stroke="#111" stroke-width="1.4"/>
<text x="157.2" y="264.4" font-size="8.2" fill="#1a1a1a" stroke="#1a1a1a" stroke-width="0.35" text-anchor="middle"><tspan font-family="Liberation Serif" font-size="1.08em">&#945;</tspan>-LYN</text>
<line x1="179" y1="261.7" x2="267.9" y2="261.7" stroke="#111" stroke-width="1.4"/>
<rect x="38.6" y="273.6" width="229.8" height="17.8" fill="#fcfcfc" stroke="none"/>
<rect x="45" y="278" width="20" height="10" rx="5" fill="#ccc" fill-opacity="0.25" filter="url(#bl4)"/>
<path d="M174.5,280.6 Q171.5,283.2 174.5,286 L240,286.6 L261,288.9 Q267.2,289.2 266.2,285.6 Q265.2,282 258,281.6 L200,280.4 Z" fill="#0b0b0b" filter="url(#bl1)"/>
<rect x="38.6" y="273.6" width="229.8" height="17.8" fill="none" stroke="#111" stroke-width="1.5"/>
<line x1="35" y1="279" x2="38.6" y2="279" stroke="#111" stroke-width="1.2"/>
<text x="33" y="282" font-size="8.3" fill="#1a1a1a" stroke="#1a1a1a" stroke-width="0.35" text-anchor="end">30</text>
<line x1="39.6" y1="300.7" x2="136.5" y2="300.7" stroke="#111" stroke-width="1.4"/>
<text x="157.2" y="303.4" font-size="8.2" fill="#1a1a1a" stroke="#1a1a1a" stroke-width="0.35" text-anchor="middle"><tspan font-family="Liberation Serif" font-size="1.08em">&#945;</tspan>-GFP</text>
<line x1="175.8" y1="300.7" x2="267.9" y2="300.7" stroke="#111" stroke-width="1.4"/>
<rect x="38.6" y="312.2" width="229.8" height="17.4" fill="#f8f8f8" stroke="none"/>
<rect x="43" y="317" width="220" height="7" rx="3.5" fill="#aaa" fill-opacity="0.35" filter="url(#bl4)"/>
<polyline points="47,318.8 55,319 72.5,319.9 90.6,320.6 108.9,321 126.1,321.3 145.2,321.4 162.3,321.2 180.5,320.9 197,320.6 217,320.9 235,321.5 253,321 264.5,320.8" fill="none" stroke="#1a1a1a" stroke-width="2.6" stroke-linejoin="round" stroke-linecap="round" stroke-opacity="0.72" filter="url(#bl1)"/>
<rect x="47" y="317.55" width="16" height="2.9" rx="1.45" fill="#111" fill-opacity="0.81" filter="url(#bl1)"/>
<rect x="64.5" y="318.45" width="16" height="2.9" rx="1.45" fill="#111" fill-opacity="0.81" filter="url(#bl1)"/>
<rect x="82.6" y="319.15" width="16" height="2.9" rx="1.45" fill="#111" fill-opacity="0.85" filter="url(#bl1)"/>
<rect x="100.9" y="319.55" width="16" height="2.9" rx="1.45" fill="#111" fill-opacity="0.85" filter="url(#bl1)"/>
<rect x="118.1" y="319.85" width="16" height="2.9" rx="1.45" fill="#111" fill-opacity="0.9" filter="url(#bl1)"/>
<rect x="137.2" y="319.95" width="16" height="2.9" rx="1.45" fill="#111" fill-opacity="0.81" filter="url(#bl1)"/>
<rect x="154.3" y="319.75" width="16" height="2.9" rx="1.45" fill="#111" fill-opacity="0.71" filter="url(#bl1)"/>
<rect x="172.5" y="319.45" width="16" height="2.9" rx="1.45" fill="#111" fill-opacity="0.9" filter="url(#bl1)"/>
<rect x="189" y="319.15" width="16" height="2.9" rx="1.45" fill="#111" fill-opacity="0.95" filter="url(#bl1)"/>
<rect x="209" y="319.45" width="16" height="2.9" rx="1.45" fill="#111" fill-opacity="0.9" filter="url(#bl1)"/>
<rect x="227" y="320.05" width="16" height="2.9" rx="1.45" fill="#111" fill-opacity="0.66" filter="url(#bl1)"/>
<rect x="245" y="319.55" width="16" height="2.9" rx="1.45" fill="#111" fill-opacity="0.81" filter="url(#bl1)"/>
<rect x="38.6" y="312.2" width="229.8" height="17.4" fill="none" stroke="#111" stroke-width="1.5"/>
<line x1="35" y1="326.4" x2="38.6" y2="326.4" stroke="#111" stroke-width="1.2"/>
<text x="33" y="329.4" font-size="8.3" fill="#1a1a1a" stroke="#1a1a1a" stroke-width="0.35" text-anchor="end">40</text>
<line x1="39.6" y1="338.8" x2="136.5" y2="338.8" stroke="#111" stroke-width="1.4"/>
<text x="157.2" y="341.5" font-size="8.2" fill="#1a1a1a" stroke="#1a1a1a" stroke-width="0.35" text-anchor="middle"><tspan font-family="Liberation Serif" font-size="1.08em">&#945;</tspan>-actin</text>
<line x1="175.8" y1="338.8" x2="267.9" y2="338.8" stroke="#111" stroke-width="1.4"/>
<line x1="354.9" y1="200.4" x2="473.62" y2="200.4" stroke="#888" stroke-width="0.9" stroke-dasharray="3,2"/>
<line x1="354.9" y1="178.32" x2="354.9" y2="218.8" stroke="#111" stroke-width="1.4"/>
<line x1="354.9" y1="218.8" x2="474.22" y2="218.8" stroke="#111" stroke-width="1.4"/>
<line x1="351.7" y1="182" x2="354.9" y2="182" stroke="#111" stroke-width="1.1"/>
<text x="349.9" y="184.8" font-size="8.2" fill="#1a1a1a" stroke="#1a1a1a" stroke-width="0.35" text-anchor="end">1.4</text>
<line x1="351.7" y1="191.2" x2="354.9" y2="191.2" stroke="#111" stroke-width="1.1"/>
<text x="349.9" y="194" font-size="8.2" fill="#1a1a1a" stroke="#1a1a1a" stroke-width="0.35" text-anchor="end">1.2</text>
<line x1="351.7" y1="200.4" x2="354.9" y2="200.4" stroke="#111" stroke-width="1.1"/>
<text x="349.9" y="203.2" font-size="8.2" fill="#1a1a1a" stroke="#1a1a1a" stroke-width="0.35" text-anchor="end">1.0</text>
<line x1="351.7" y1="209.6" x2="354.9" y2="209.6" stroke="#111" stroke-width="1.1"/>
<text x="349.9" y="212.4" font-size="8.2" fill="#1a1a1a" stroke="#1a1a1a" stroke-width="0.35" text-anchor="end">0.8</text>
<line x1="354.9" y1="218.8" x2="354.9" y2="222" stroke="#111" stroke-width="1.1"/>
<text x="354.9" y="233.2" font-size="8.6" fill="#1a1a1a" stroke="#1a1a1a" stroke-width="0.35" text-anchor="middle">0</text>
<line x1="405.78" y1="218.8" x2="405.78" y2="222" stroke="#111" stroke-width="1.1"/>
<text x="405.78" y="233.2" font-size="8.6" fill="#1a1a1a" stroke="#1a1a1a" stroke-width="0.35" text-anchor="middle">3</text>
<line x1="422.74" y1="218.8" x2="422.74" y2="222" stroke="#111" stroke-width="1.1"/>
<text x="422.74" y="233.2" font-size="8.6" fill="#1a1a1a" stroke="#1a1a1a" stroke-width="0.35" text-anchor="middle">4</text>
<line x1="439.7" y1="218.8" x2="439.7" y2="222" stroke="#111" stroke-width="1.1"/>
<text x="439.7" y="233.2" font-size="8.6" fill="#1a1a1a" stroke="#1a1a1a" stroke-width="0.35" text-anchor="middle">5</text>
<line x1="456.66" y1="218.8" x2="456.66" y2="222" stroke="#111" stroke-width="1.1"/>
<text x="456.66" y="233.2" font-size="8.6" fill="#1a1a1a" stroke="#1a1a1a" stroke-width="0.35" text-anchor="middle">6</text>
<line x1="473.62" y1="218.8" x2="473.62" y2="222" stroke="#111" stroke-width="1.1"/>
<text x="473.62" y="233.2" font-size="8.6" fill="#1a1a1a" stroke="#1a1a1a" stroke-width="0.35" text-anchor="middle">7</text>
<line x1="352.9" y1="196.72" x2="356.9" y2="196.72" stroke="#111" stroke-width="1.1"/>
<line x1="352.9" y1="204.08" x2="356.9" y2="204.08" stroke="#111" stroke-width="1.1"/>
<polyline points="354.9,201.78 405.78,203.62 422.74,199.48 439.7,208.68 456.66,206.38 473.62,210.98" fill="none" stroke="#a3143f" stroke-width="2.2" stroke-linejoin="round"/>
<line x1="405.78" y1="205.92" x2="405.78" y2="201.32" stroke="#111" stroke-width="1.1"/>
<line x1="403.78" y1="205.92" x2="407.78" y2="205.92" stroke="#111" stroke-width="1.1"/>
<line x1="403.78" y1="201.32" x2="407.78" y2="201.32" stroke="#111" stroke-width="1.1"/>
<line x1="422.74" y1="208.22" x2="422.74" y2="190.74" stroke="#111" stroke-width="1.1"/>
<line x1="420.74" y1="208.22" x2="424.74" y2="208.22" stroke="#111" stroke-width="1.1"/>
<line x1="420.74" y1="190.74" x2="424.74" y2="190.74" stroke="#111" stroke-width="1.1"/>
<line x1="439.7" y1="211.9" x2="439.7" y2="205.46" stroke="#111" stroke-width="1.1"/>
<line x1="437.7" y1="211.9" x2="441.7" y2="211.9" stroke="#111" stroke-width="1.1"/>
<line x1="437.7" y1="205.46" x2="441.7" y2="205.46" stroke="#111" stroke-width="1.1"/>
<line x1="456.66" y1="212.82" x2="456.66" y2="199.94" stroke="#111" stroke-width="1.1"/>
<line x1="454.66" y1="212.82" x2="458.66" y2="212.82" stroke="#111" stroke-width="1.1"/>
<line x1="454.66" y1="199.94" x2="458.66" y2="199.94" stroke="#111" stroke-width="1.1"/>
<line x1="473.62" y1="218.8" x2="473.62" y2="203.62" stroke="#111" stroke-width="1.1"/>
<line x1="471.62" y1="218.8" x2="475.62" y2="218.8" stroke="#111" stroke-width="1.1"/>
<line x1="471.62" y1="203.62" x2="475.62" y2="203.62" stroke="#111" stroke-width="1.1"/>
<line x1="354.9" y1="260" x2="473.62" y2="260" stroke="#888" stroke-width="0.9" stroke-dasharray="3,2"/>
<line x1="354.9" y1="237.92" x2="354.9" y2="278.4" stroke="#111" stroke-width="1.4"/>
<line x1="354.9" y1="278.4" x2="474.22" y2="278.4" stroke="#111" stroke-width="1.4"/>
<line x1="351.7" y1="241.6" x2="354.9" y2="241.6" stroke="#111" stroke-width="1.1"/>
<text x="349.9" y="244.4" font-size="8.2" fill="#1a1a1a" stroke="#1a1a1a" stroke-width="0.35" text-anchor="end">1.4</text>
<line x1="351.7" y1="250.8" x2="354.9" y2="250.8" stroke="#111" stroke-width="1.1"/>
<text x="349.9" y="253.6" font-size="8.2" fill="#1a1a1a" stroke="#1a1a1a" stroke-width="0.35" text-anchor="end">1.2</text>
<line x1="351.7" y1="260" x2="354.9" y2="260" stroke="#111" stroke-width="1.1"/>
<text x="349.9" y="262.8" font-size="8.2" fill="#1a1a1a" stroke="#1a1a1a" stroke-width="0.35" text-anchor="end">1.0</text>
<line x1="351.7" y1="269.2" x2="354.9" y2="269.2" stroke="#111" stroke-width="1.1"/>
<text x="349.9" y="272" font-size="8.2" fill="#1a1a1a" stroke="#1a1a1a" stroke-width="0.35" text-anchor="end">0.8</text>
<line x1="354.9" y1="278.4" x2="354.9" y2="281.6" stroke="#111" stroke-width="1.1"/>
<text x="354.9" y="292.8" font-size="8.6" fill="#1a1a1a" stroke="#1a1a1a" stroke-width="0.35" text-anchor="middle">0</text>
<line x1="405.78" y1="278.4" x2="405.78" y2="281.6" stroke="#111" stroke-width="1.1"/>
<text x="405.78" y="292.8" font-size="8.6" fill="#1a1a1a" stroke="#1a1a1a" stroke-width="0.35" text-anchor="middle">3</text>
<line x1="422.74" y1="278.4" x2="422.74" y2="281.6" stroke="#111" stroke-width="1.1"/>
<text x="422.74" y="292.8" font-size="8.6" fill="#1a1a1a" stroke="#1a1a1a" stroke-width="0.35" text-anchor="middle">4</text>
<line x1="439.7" y1="278.4" x2="439.7" y2="281.6" stroke="#111" stroke-width="1.1"/>
<text x="439.7" y="292.8" font-size="8.6" fill="#1a1a1a" stroke="#1a1a1a" stroke-width="0.35" text-anchor="middle">5</text>
<line x1="456.66" y1="278.4" x2="456.66" y2="281.6" stroke="#111" stroke-width="1.1"/>
<text x="456.66" y="292.8" font-size="8.6" fill="#1a1a1a" stroke="#1a1a1a" stroke-width="0.35" text-anchor="middle">6</text>
<line x1="473.62" y1="278.4" x2="473.62" y2="281.6" stroke="#111" stroke-width="1.1"/>
<text x="473.62" y="292.8" font-size="8.6" fill="#1a1a1a" stroke="#1a1a1a" stroke-width="0.35" text-anchor="middle">7</text>
<line x1="352.9" y1="256.32" x2="356.9" y2="256.32" stroke="#111" stroke-width="1.1"/>
<line x1="352.9" y1="263.68" x2="356.9" y2="263.68" stroke="#111" stroke-width="1.1"/>
<polyline points="354.9,260 405.78,260 422.74,254.02 439.7,262.3 456.66,258.16 473.62,265.98" fill="none" stroke="#2f4d7d" stroke-width="2.2" stroke-linejoin="round"/>
<line x1="405.78" y1="262.3" x2="405.78" y2="257.24" stroke="#111" stroke-width="1.1"/>
<line x1="403.78" y1="262.3" x2="407.78" y2="262.3" stroke="#111" stroke-width="1.1"/>
<line x1="403.78" y1="257.24" x2="407.78" y2="257.24" stroke="#111" stroke-width="1.1"/>
<line x1="422.74" y1="264.14" x2="422.74" y2="243.9" stroke="#111" stroke-width="1.1"/>
<line x1="420.74" y1="264.14" x2="424.74" y2="264.14" stroke="#111" stroke-width="1.1"/>
<line x1="420.74" y1="243.9" x2="424.74" y2="243.9" stroke="#111" stroke-width="1.1"/>
<line x1="439.7" y1="264.14" x2="439.7" y2="260" stroke="#111" stroke-width="1.1"/>
<line x1="437.7" y1="264.14" x2="441.7" y2="264.14" stroke="#111" stroke-width="1.1"/>
<line x1="437.7" y1="260" x2="441.7" y2="260" stroke="#111" stroke-width="1.1"/>
<line x1="456.66" y1="266.44" x2="456.66" y2="249.42" stroke="#111" stroke-width="1.1"/>
<line x1="454.66" y1="266.44" x2="458.66" y2="266.44" stroke="#111" stroke-width="1.1"/>
<line x1="454.66" y1="249.42" x2="458.66" y2="249.42" stroke="#111" stroke-width="1.1"/>
<line x1="473.62" y1="272.42" x2="473.62" y2="260" stroke="#111" stroke-width="1.1"/>
<line x1="471.62" y1="272.42" x2="475.62" y2="272.42" stroke="#111" stroke-width="1.1"/>
<line x1="471.62" y1="260" x2="475.62" y2="260" stroke="#111" stroke-width="1.1"/>
<line x1="354.9" y1="319.7" x2="473.62" y2="319.7" stroke="#888" stroke-width="0.9" stroke-dasharray="3,2"/>
<line x1="354.9" y1="297.62" x2="354.9" y2="338.1" stroke="#111" stroke-width="1.4"/>
<line x1="354.9" y1="338.1" x2="474.22" y2="338.1" stroke="#111" stroke-width="1.4"/>
<line x1="351.7" y1="301.3" x2="354.9" y2="301.3" stroke="#111" stroke-width="1.1"/>
<text x="349.9" y="304.1" font-size="8.2" fill="#1a1a1a" stroke="#1a1a1a" stroke-width="0.35" text-anchor="end">1.4</text>
<line x1="351.7" y1="310.5" x2="354.9" y2="310.5" stroke="#111" stroke-width="1.1"/>
<text x="349.9" y="313.3" font-size="8.2" fill="#1a1a1a" stroke="#1a1a1a" stroke-width="0.35" text-anchor="end">1.2</text>
<line x1="351.7" y1="319.7" x2="354.9" y2="319.7" stroke="#111" stroke-width="1.1"/>
<text x="349.9" y="322.5" font-size="8.2" fill="#1a1a1a" stroke="#1a1a1a" stroke-width="0.35" text-anchor="end">1.0</text>
<line x1="351.7" y1="328.9" x2="354.9" y2="328.9" stroke="#111" stroke-width="1.1"/>
<text x="349.9" y="331.7" font-size="8.2" fill="#1a1a1a" stroke="#1a1a1a" stroke-width="0.35" text-anchor="end">0.8</text>
<line x1="354.9" y1="338.1" x2="354.9" y2="341.3" stroke="#111" stroke-width="1.1"/>
<text x="354.9" y="352.5" font-size="8.6" fill="#1a1a1a" stroke="#1a1a1a" stroke-width="0.35" text-anchor="middle">0</text>
<line x1="405.78" y1="338.1" x2="405.78" y2="341.3" stroke="#111" stroke-width="1.1"/>
<text x="405.78" y="352.5" font-size="8.6" fill="#1a1a1a" stroke="#1a1a1a" stroke-width="0.35" text-anchor="middle">3</text>
<line x1="422.74" y1="338.1" x2="422.74" y2="341.3" stroke="#111" stroke-width="1.1"/>
<text x="422.74" y="352.5" font-size="8.6" fill="#1a1a1a" stroke="#1a1a1a" stroke-width="0.35" text-anchor="middle">4</text>
<line x1="439.7" y1="338.1" x2="439.7" y2="341.3" stroke="#111" stroke-width="1.1"/>
<text x="439.7" y="352.5" font-size="8.6" fill="#1a1a1a" stroke="#1a1a1a" stroke-width="0.35" text-anchor="middle">5</text>
<line x1="456.66" y1="338.1" x2="456.66" y2="341.3" stroke="#111" stroke-width="1.1"/>
<text x="456.66" y="352.5" font-size="8.6" fill="#1a1a1a" stroke="#1a1a1a" stroke-width="0.35" text-anchor="middle">6</text>
<line x1="473.62" y1="338.1" x2="473.62" y2="341.3" stroke="#111" stroke-width="1.1"/>
<text x="473.62" y="352.5" font-size="8.6" fill="#1a1a1a" stroke="#1a1a1a" stroke-width="0.35" text-anchor="middle">7</text>
<line x1="352.9" y1="316.02" x2="356.9" y2="316.02" stroke="#111" stroke-width="1.1"/>
<line x1="352.9" y1="323.38" x2="356.9" y2="323.38" stroke="#111" stroke-width="1.1"/>
<polyline points="354.9,320.62 405.78,319.7 422.74,317.86 439.7,323.84 456.66,324.3 473.62,323.84" fill="none" stroke="#7db548" stroke-width="2.2" stroke-linejoin="round"/>
<line x1="405.78" y1="321.08" x2="405.78" y2="318.32" stroke="#111" stroke-width="1.1"/>
<line x1="403.78" y1="321.08" x2="407.78" y2="321.08" stroke="#111" stroke-width="1.1"/>
<line x1="403.78" y1="318.32" x2="407.78" y2="318.32" stroke="#111" stroke-width="1.1"/>
<line x1="422.74" y1="324.3" x2="422.74" y2="311.88" stroke="#111" stroke-width="1.1"/>
<line x1="420.74" y1="324.3" x2="424.74" y2="324.3" stroke="#111" stroke-width="1.1"/>
<line x1="420.74" y1="311.88" x2="424.74" y2="311.88" stroke="#111" stroke-width="1.1"/>
<line x1="439.7" y1="326.6" x2="439.7" y2="321.08" stroke="#111" stroke-width="1.1"/>
<line x1="437.7" y1="326.6" x2="441.7" y2="326.6" stroke="#111" stroke-width="1.1"/>
<line x1="437.7" y1="321.08" x2="441.7" y2="321.08" stroke="#111" stroke-width="1.1"/>
<line x1="456.66" y1="329.36" x2="456.66" y2="319.24" stroke="#111" stroke-width="1.1"/>
<line x1="454.66" y1="329.36" x2="458.66" y2="329.36" stroke="#111" stroke-width="1.1"/>
<line x1="454.66" y1="319.24" x2="458.66" y2="319.24" stroke="#111" stroke-width="1.1"/>
<line x1="473.62" y1="329.36" x2="473.62" y2="318.32" stroke="#111" stroke-width="1.1"/>
<line x1="471.62" y1="329.36" x2="475.62" y2="329.36" stroke="#111" stroke-width="1.1"/>
<line x1="471.62" y1="318.32" x2="475.62" y2="318.32" stroke="#111" stroke-width="1.1"/>
<line x1="459.4" y1="168.9" x2="468.9" y2="168.9" stroke="#a3143f" stroke-width="1.5"/>
<text x="471.5" y="171.5" font-size="7.7" fill="#1a1a1a" stroke="#1a1a1a" stroke-width="0.35">shLYN1</text>
<line x1="459.4" y1="176.85" x2="468.9" y2="176.85" stroke="#2f4d7d" stroke-width="1.5"/>
<text x="471.5" y="179.45" font-size="7.7" fill="#1a1a1a" stroke="#1a1a1a" stroke-width="0.35">shLYN2</text>
<line x1="459.4" y1="184.8" x2="468.9" y2="184.8" stroke="#7db548" stroke-width="1.5"/>
<text x="471.5" y="187.4" font-size="7.7" fill="#1a1a1a" stroke="#1a1a1a" stroke-width="0.35">shLYN3</text>
<text x="418.1" y="365.6" font-size="10.2" fill="#1a1a1a" stroke="#1a1a1a" stroke-width="0.35" text-anchor="middle" textLength="19.2" lengthAdjust="spacingAndGlyphs">Days</text>
<text x="319.2" y="258.6" font-size="9.4" fill="#1a1a1a" stroke="#1a1a1a" stroke-width="0.35" text-anchor="middle" textLength="129" lengthAdjust="spacingAndGlyphs" transform="rotate(-90 319.2 258.6)">Fraction of mCherry positive cells</text>
<text x="331.2" y="255.4" font-size="9.4" fill="#1a1a1a" stroke="#1a1a1a" stroke-width="0.35" text-anchor="middle" textLength="66" lengthAdjust="spacingAndGlyphs" transform="rotate(-90 331.2 255.4)">(relative to control)</text>
<line x1="49.9" y1="403.2" x2="49.9" y2="508" stroke="#111" stroke-width="1.5"/>
<line x1="46.1" y1="507.4" x2="49.9" y2="507.4" stroke="#111" stroke-width="1.2"/>
<text x="43.7" y="509.8" font-size="8.3" fill="#1a1a1a" stroke="#1a1a1a" stroke-width="0.35" text-anchor="end">0.0</text>
<line x1="46.1" y1="482.17" x2="49.9" y2="482.17" stroke="#111" stroke-width="1.2"/>
<text x="43.7" y="484.57" font-size="8.3" fill="#1a1a1a" stroke="#1a1a1a" stroke-width="0.35" text-anchor="end">0.5</text>
<line x1="46.1" y1="456.95" x2="49.9" y2="456.95" stroke="#111" stroke-width="1.2"/>
<text x="43.7" y="459.35" font-size="8.3" fill="#1a1a1a" stroke="#1a1a1a" stroke-width="0.35" text-anchor="end">1.0</text>
<line x1="46.1" y1="431.72" x2="49.9" y2="431.72" stroke="#111" stroke-width="1.2"/>
<text x="43.7" y="434.12" font-size="8.3" fill="#1a1a1a" stroke="#1a1a1a" stroke-width="0.35" text-anchor="end">1.5</text>
<line x1="46.1" y1="406.5" x2="49.9" y2="406.5" stroke="#111" stroke-width="1.2"/>
<text x="43.7" y="408.9" font-size="8.3" fill="#1a1a1a" stroke="#1a1a1a" stroke-width="0.35" text-anchor="end">2.0</text>
<line x1="58.5" y1="511.2" x2="166.9" y2="511.2" stroke="#111" stroke-width="1.5"/>
<line x1="62" y1="511.2" x2="62" y2="515" stroke="#111" stroke-width="1.2"/>
<text x="62" y="523.6" font-size="8.4" fill="#1a1a1a" stroke="#1a1a1a" stroke-width="0.35" text-anchor="middle">&#8722;3</text>
<line x1="87.85" y1="511.2" x2="87.85" y2="515" stroke="#111" stroke-width="1.2"/>
<text x="87.85" y="523.6" font-size="8.4" fill="#1a1a1a" stroke="#1a1a1a" stroke-width="0.35" text-anchor="middle">&#8722;2</text>
<line x1="113.7" y1="511.2" x2="113.7" y2="515" stroke="#111" stroke-width="1.2"/>
<text x="113.7" y="523.6" font-size="8.4" fill="#1a1a1a" stroke="#1a1a1a" stroke-width="0.35" text-anchor="middle">&#8722;1</text>
<line x1="139.55" y1="511.2" x2="139.55" y2="515" stroke="#111" stroke-width="1.2"/>
<text x="139.55" y="523.6" font-size="8.4" fill="#1a1a1a" stroke="#1a1a1a" stroke-width="0.35" text-anchor="middle">0</text>
<line x1="165.4" y1="511.2" x2="165.4" y2="515" stroke="#111" stroke-width="1.2"/>
<text x="165.4" y="523.6" font-size="8.4" fill="#1a1a1a" stroke="#1a1a1a" stroke-width="0.35" text-anchor="middle">1</text>
<text x="113.8" y="537.6" font-size="10.3" fill="#1a1a1a" stroke="#1a1a1a" stroke-width="0.35" text-anchor="middle" textLength="84.2" lengthAdjust="spacingAndGlyphs">Concentration (log10)</text>
<text x="25.6" y="456.6" font-size="8.6" fill="#1a1a1a" stroke="#1a1a1a" stroke-width="0.35" text-anchor="middle" textLength="61.5" lengthAdjust="spacingAndGlyphs" transform="rotate(-90 25.6 456.6)">Relative viability</text>
<text x="113.5" y="395" font-size="9.8" fill="#1a1a1a" stroke="#1a1a1a" stroke-width="0.35" text-anchor="middle">AT13387</text>
<polyline points="54.25,415.62 55.18,415.63 56.11,415.64 57.05,415.65 57.98,415.66 58.92,415.68 59.85,415.7 60.78,415.72 61.72,415.75 62.65,415.78 63.59,415.82 64.52,415.86 65.45,415.92 66.39,415.98 67.32,416.06 68.26,416.15 69.19,416.25 70.12,416.38 71.06,416.53 71.99,416.71 72.93,416.92 73.86,417.18 74.79,417.47 75.73,417.83 76.66,418.24 77.6,418.73 78.53,419.31 79.47,419.98 80.4,420.78 81.33,421.7 82.27,422.78 83.2,424.02 84.14,425.46 85.07,427.1 86,428.98 86.94,431.1 87.87,433.47 88.81,436.11 89.74,439.01 90.67,442.17 91.61,445.56 92.54,449.15 93.48,452.91 94.41,456.79 95.34,460.72 96.28,464.66 97.21,468.53 98.15,472.3 99.08,475.89 100.01,479.28 100.95,482.44 101.88,485.35 102.82,487.99 103.75,490.36 104.69,492.48 105.62,494.36 106.55,496 107.49,497.44 108.42,498.68 109.36,499.76 110.29,500.69 111.22,501.48 112.16,502.16 113.09,502.73 114.03,503.22 114.96,503.64 115.89,503.99 116.83,504.29 117.76,504.54 118.7,504.76 119.63,504.94 120.56,505.09 121.5,505.21 122.43,505.32 123.37,505.41 124.3,505.49 125.23,505.55 126.17,505.6 127.1,505.65 128.04,505.69 128.97,505.72 129.91,505.75 130.84,505.77 131.77,505.79 132.71,505.8 133.64,505.82 134.58,505.83 135.51,505.84 136.44,505.85 137.38,505.85 138.31,505.86 139.25,505.86 140.18,505.87 141.11,505.87 142.05,505.87 142.98,505.87 143.92,505.88 144.85,505.88 145.78,505.88 146.72,505.88 147.65,505.88 148.59,505.88 149.52,505.88 150.45,505.88 151.39,505.88 152.32,505.88 153.26,505.88 154.19,505.89 155.13,505.89 156.06,505.89 156.99,505.89 157.93,505.89 158.86,505.89 159.8,505.89 160.73,505.89 161.66,505.89 162.6,505.89 163.53,505.89 164.47,505.89 165.4,505.89" fill="none" stroke="#e1a52a" stroke-width="1.8" stroke-linejoin="round"/>
<polyline points="54.25,445.93 55.18,445.94 56.11,445.95 57.05,445.97 57.98,445.98 58.92,446 59.85,446.03 60.78,446.05 61.72,446.09 62.65,446.12 63.59,446.16 64.52,446.21 65.45,446.26 66.39,446.33 67.32,446.4 68.26,446.48 69.19,446.57 70.12,446.68 71.06,446.81 71.99,446.95 72.93,447.11 73.86,447.3 74.79,447.51 75.73,447.75 76.66,448.03 77.6,448.35 78.53,448.71 79.47,449.12 80.4,449.59 81.33,450.12 82.27,450.71 83.2,451.38 84.14,452.13 85.07,452.97 86,453.9 86.94,454.94 87.87,456.08 88.81,457.33 89.74,458.7 90.67,460.17 91.61,461.76 92.54,463.46 93.48,465.26 94.41,467.14 95.34,469.1 96.28,471.12 97.21,473.18 98.15,475.27 99.08,477.35 100.01,479.42 100.95,481.44 101.88,483.41 102.82,485.3 103.75,487.1 104.69,488.81 105.62,490.41 106.55,491.9 107.49,493.27 108.42,494.54 109.36,495.69 110.29,496.73 111.22,497.68 112.16,498.52 113.09,499.28 114.03,499.96 114.96,500.56 115.89,501.09 116.83,501.56 117.76,501.98 118.7,502.35 119.63,502.67 120.56,502.95 121.5,503.2 122.43,503.41 123.37,503.6 124.3,503.77 125.23,503.91 126.17,504.04 127.1,504.15 128.04,504.24 128.97,504.32 129.91,504.4 130.84,504.46 131.77,504.51 132.71,504.56 133.64,504.6 134.58,504.64 135.51,504.67 136.44,504.7 137.38,504.72 138.31,504.74 139.25,504.76 140.18,504.78 141.11,504.79 142.05,504.8 142.98,504.81 143.92,504.82 144.85,504.83 145.78,504.83 146.72,504.84 147.65,504.84 148.59,504.85 149.52,504.85 150.45,504.86 151.39,504.86 152.32,504.86 153.26,504.86 154.19,504.87 155.13,504.87 156.06,504.87 156.99,504.87 157.93,504.87 158.86,504.87 159.8,504.87 160.73,504.87 161.66,504.87 162.6,504.87 163.53,504.87 164.47,504.87 165.4,504.88" fill="none" stroke="#6aae4c" stroke-width="1.8" stroke-linejoin="round"/>
<polyline points="54.25,453.94 55.18,453.94 56.11,453.94 57.05,453.94 57.98,453.95 58.92,453.95 59.85,453.96 60.78,453.96 61.72,453.97 62.65,453.98 63.59,453.99 64.52,454 65.45,454.01 66.39,454.03 67.32,454.05 68.26,454.07 69.19,454.1 70.12,454.13 71.06,454.16 71.99,454.21 72.93,454.26 73.86,454.32 74.79,454.39 75.73,454.48 76.66,454.57 77.6,454.69 78.53,454.83 79.47,454.99 80.4,455.17 81.33,455.39 82.27,455.65 83.2,455.95 84.14,456.3 85.07,456.7 86,457.17 86.94,457.72 87.87,458.34 88.81,459.06 89.74,459.87 90.67,460.8 91.61,461.84 92.54,463 93.48,464.29 94.41,465.71 95.34,467.26 96.28,468.93 97.21,470.7 98.15,472.57 99.08,474.51 100.01,476.5 100.95,478.51 101.88,480.52 102.82,482.5 103.75,484.41 104.69,486.25 105.62,487.98 106.55,489.61 107.49,491.11 108.42,492.48 109.36,493.72 110.29,494.84 111.22,495.84 112.16,496.72 113.09,497.5 114.03,498.18 114.96,498.77 115.89,499.29 116.83,499.73 117.76,500.11 118.7,500.44 119.63,500.73 120.56,500.97 121.5,501.18 122.43,501.35 123.37,501.5 124.3,501.63 125.23,501.74 126.17,501.84 127.1,501.91 128.04,501.98 128.97,502.04 129.91,502.09 130.84,502.13 131.77,502.16 132.71,502.19 133.64,502.22 134.58,502.24 135.51,502.26 136.44,502.27 137.38,502.28 138.31,502.29 139.25,502.3 140.18,502.31 141.11,502.32 142.05,502.32 142.98,502.33 143.92,502.33 144.85,502.34 145.78,502.34 146.72,502.34 147.65,502.34 148.59,502.35 149.52,502.35 150.45,502.35 151.39,502.35 152.32,502.35 153.26,502.35 154.19,502.35 155.13,502.35 156.06,502.35 156.99,502.35 157.93,502.35 158.86,502.35 159.8,502.35 160.73,502.35 161.66,502.35 162.6,502.35 163.53,502.35 164.47,502.35 165.4,502.35" fill="none" stroke="#27477e" stroke-width="1.8" stroke-linejoin="round"/>
<polyline points="54.25,444.43 55.18,444.44 56.11,444.46 57.05,444.48 57.98,444.5 58.92,444.52 59.85,444.54 60.78,444.57 61.72,444.61 62.65,444.65 63.59,444.69 64.52,444.74 65.45,444.8 66.39,444.86 67.32,444.93 68.26,445.02 69.19,445.11 70.12,445.22 71.06,445.35 71.99,445.49 72.93,445.65 73.86,445.83 74.79,446.04 75.73,446.27 76.66,446.54 77.6,446.84 78.53,447.17 79.47,447.56 80.4,447.99 81.33,448.47 82.27,449.01 83.2,449.62 84.14,450.29 85.07,451.04 86,451.88 86.94,452.8 87.87,453.81 88.81,454.92 89.74,456.12 90.67,457.43 91.61,458.83 92.54,460.34 93.48,461.94 94.41,463.62 95.34,465.39 96.28,467.23 97.21,469.12 98.15,471.05 99.08,473.01 100.01,474.97 100.95,476.92 101.88,478.85 102.82,480.73 103.75,482.56 104.69,484.32 105.62,485.99 106.55,487.58 107.49,489.07 108.42,490.46 109.36,491.75 110.29,492.95 111.22,494.04 112.16,495.04 113.09,495.94 114.03,496.77 114.96,497.51 115.89,498.17 116.83,498.77 117.76,499.3 118.7,499.78 119.63,500.2 120.56,500.58 121.5,500.91 122.43,501.2 123.37,501.46 124.3,501.7 125.23,501.9 126.17,502.08 127.1,502.23 128.04,502.37 128.97,502.49 129.91,502.6 130.84,502.7 131.77,502.78 132.71,502.85 133.64,502.91 134.58,502.97 135.51,503.02 136.44,503.06 137.38,503.1 138.31,503.13 139.25,503.16 140.18,503.19 141.11,503.21 142.05,503.23 142.98,503.24 143.92,503.26 144.85,503.27 145.78,503.28 146.72,503.29 147.65,503.3 148.59,503.31 149.52,503.32 150.45,503.32 151.39,503.33 152.32,503.33 153.26,503.34 154.19,503.34 155.13,503.34 156.06,503.35 156.99,503.35 157.93,503.35 158.86,503.35 159.8,503.35 160.73,503.35 161.66,503.36 162.6,503.36 163.53,503.36 164.47,503.36 165.4,503.36" fill="none" stroke="#3c1f5a" stroke-width="1.8" stroke-linejoin="round"/>
<polyline points="54.25,441.39 55.18,441.4 56.11,441.42 57.05,441.43 57.98,441.44 58.92,441.46 59.85,441.47 60.78,441.49 61.72,441.51 62.65,441.54 63.59,441.56 64.52,441.59 65.45,441.62 66.39,441.66 67.32,441.7 68.26,441.74 69.19,441.79 70.12,441.85 71.06,441.91 71.99,441.98 72.93,442.06 73.86,442.14 74.79,442.24 75.73,442.34 76.66,442.46 77.6,442.59 78.53,442.73 79.47,442.89 80.4,443.07 81.33,443.27 82.27,443.49 83.2,443.73 84.14,444 85.07,444.29 86,444.62 86.94,444.97 87.87,445.37 88.81,445.8 89.74,446.27 90.67,446.79 91.61,447.36 92.54,447.97 93.48,448.64 94.41,449.37 95.34,450.15 96.28,451 97.21,451.9 98.15,452.87 99.08,453.9 100.01,455 100.95,456.15 101.88,457.37 102.82,458.64 103.75,459.96 104.69,461.33 105.62,462.74 106.55,464.18 107.49,465.65 108.42,467.14 109.36,468.63 110.29,470.13 111.22,471.61 112.16,473.08 113.09,474.52 114.03,475.93 114.96,477.29 115.89,478.61 116.83,479.87 117.76,481.08 118.7,482.23 119.63,483.32 120.56,484.34 121.5,485.31 122.43,486.21 123.37,487.04 124.3,487.82 125.23,488.54 126.17,489.2 127.1,489.81 128.04,490.37 128.97,490.89 129.91,491.36 130.84,491.78 131.77,492.17 132.71,492.53 133.64,492.85 134.58,493.14 135.51,493.4 136.44,493.64 137.38,493.86 138.31,494.05 139.25,494.23 140.18,494.39 141.11,494.53 142.05,494.66 142.98,494.78 143.92,494.88 144.85,494.97 145.78,495.06 146.72,495.14 147.65,495.2 148.59,495.26 149.52,495.32 150.45,495.37 151.39,495.41 152.32,495.45 153.26,495.49 154.19,495.52 155.13,495.55 156.06,495.57 156.99,495.6 157.93,495.62 158.86,495.64 159.8,495.65 160.73,495.67 161.66,495.68 162.6,495.69 163.53,495.7 164.47,495.71 165.4,495.72" fill="none" stroke="#a5183f" stroke-width="1.8" stroke-linejoin="round"/>
<circle cx="54.4" cy="418.61" r="1.5" fill="#e1a52a"/>
<circle cx="66.74" cy="417.6" r="1.5" fill="#e1a52a"/>
<circle cx="79.07" cy="412.55" r="1.5" fill="#e1a52a"/>
<circle cx="91.4" cy="442.82" r="1.5" fill="#e1a52a"/>
<circle cx="103.73" cy="491.54" r="1.5" fill="#e1a52a"/>
<circle cx="116.07" cy="502.7" r="1.5" fill="#e1a52a"/>
<circle cx="128.4" cy="504.82" r="1.5" fill="#e1a52a"/>
<circle cx="140.73" cy="504.98" r="1.5" fill="#e1a52a"/>
<circle cx="153.07" cy="504.94" r="1.5" fill="#e1a52a"/>
<circle cx="165.4" cy="504.49" r="1.5" fill="#e1a52a"/>
<circle cx="54.4" cy="445.85" r="1.4" fill="#6aae4c"/>
<circle cx="66.74" cy="446.86" r="1.4" fill="#6aae4c"/>
<circle cx="79.07" cy="456.95" r="1.4" fill="#6aae4c"/>
<circle cx="91.4" cy="459.19" r="1.4" fill="#6aae4c"/>
<circle cx="103.73" cy="488.76" r="1.4" fill="#6aae4c"/>
<circle cx="116.07" cy="500.77" r="1.4" fill="#6aae4c"/>
<circle cx="128.4" cy="505.14" r="1.4" fill="#6aae4c"/>
<circle cx="140.73" cy="504.81" r="1.4" fill="#6aae4c"/>
<circle cx="153.07" cy="504.26" r="1.4" fill="#6aae4c"/>
<circle cx="165.4" cy="507.31" r="1.4" fill="#6aae4c"/>
<path d="M54.4,450.82 L56.9,455.22 L51.9,455.22 Z" fill="#27477e"/>
<path d="M66.74,451.83 L69.24,456.23 L64.24,456.23 Z" fill="#27477e"/>
<path d="M79.07,451.83 L81.57,456.23 L76.57,456.23 Z" fill="#27477e"/>
<path d="M91.4,459.9 L93.9,464.3 L88.9,464.3 Z" fill="#27477e"/>
<path d="M103.73,479.87 L106.23,484.27 L101.23,484.27 Z" fill="#27477e"/>
<path d="M116.07,497.53 L118.57,501.93 L113.57,501.93 Z" fill="#27477e"/>
<path d="M128.4,497.24 L130.9,501.64 L125.9,501.64 Z" fill="#27477e"/>
<path d="M140.73,500.23 L143.23,504.63 L138.23,504.63 Z" fill="#27477e"/>
<path d="M153.07,499.41 L155.57,503.81 L150.57,503.81 Z" fill="#27477e"/>
<path d="M165.4,499.7 L167.9,504.1 L162.9,504.1 Z" fill="#27477e"/>
<circle cx="54.4" cy="447.36" r="2.6" fill="#3c1f5a"/>
<circle cx="66.74" cy="445.35" r="2.6" fill="#3c1f5a"/>
<circle cx="79.07" cy="442.82" r="2.6" fill="#3c1f5a"/>
<circle cx="91.4" cy="465.02" r="2.6" fill="#3c1f5a"/>
<circle cx="103.73" cy="481.17" r="2.6" fill="#3c1f5a"/>
<circle cx="116.07" cy="494.28" r="2.6" fill="#3c1f5a"/>
<circle cx="128.4" cy="497.81" r="2.6" fill="#3c1f5a"/>
<circle cx="140.73" cy="503.57" r="2.6" fill="#3c1f5a"/>
<circle cx="153.07" cy="504.17" r="2.6" fill="#3c1f5a"/>
<circle cx="165.4" cy="505.51" r="2.6" fill="#3c1f5a"/>
<circle cx="54.4" cy="442.32" r="2.4" fill="#fff" stroke="#a5183f" stroke-width="1.3"/>
<circle cx="66.74" cy="438.79" r="2.4" fill="#fff" stroke="#a5183f" stroke-width="1.3"/>
<circle cx="79.07" cy="443.33" r="2.4" fill="#fff" stroke="#a5183f" stroke-width="1.3"/>
<circle cx="91.4" cy="447.87" r="2.4" fill="#fff" stroke="#a5183f" stroke-width="1.3"/>
<circle cx="103.73" cy="462.5" r="2.4" fill="#fff" stroke="#a5183f" stroke-width="1.3"/>
<circle cx="116.07" cy="478.64" r="2.4" fill="#fff" stroke="#a5183f" stroke-width="1.3"/>
<circle cx="128.4" cy="488.73" r="2.4" fill="#fff" stroke="#a5183f" stroke-width="1.3"/>
<circle cx="140.73" cy="493.78" r="2.4" fill="#fff" stroke="#a5183f" stroke-width="1.3"/>
<circle cx="153.07" cy="494.28" r="2.4" fill="#fff" stroke="#a5183f" stroke-width="1.3"/>
<circle cx="165.4" cy="496.3" r="2.4" fill="#fff" stroke="#a5183f" stroke-width="1.3"/>
<line x1="136.1" y1="408.8" x2="145.7" y2="408.8" stroke="#a5183f" stroke-width="1.5"/>
<text x="148.8" y="411.6" font-size="7.7" fill="#1a1a1a" stroke="#1a1a1a" stroke-width="0.35">Awia</text>
<line x1="136.1" y1="419.2" x2="145.7" y2="419.2" stroke="#27477e" stroke-width="1.5"/>
<text x="148.8" y="422" font-size="7.7" fill="#1a1a1a" stroke="#1a1a1a" stroke-width="0.35">BL2</text>
<line x1="136.1" y1="429.6" x2="145.7" y2="429.6" stroke="#6aae4c" stroke-width="1.5"/>
<text x="148.8" y="432.4" font-size="7.7" fill="#1a1a1a" stroke="#1a1a1a" stroke-width="0.35">BL41</text>
<line x1="136.1" y1="440" x2="145.7" y2="440" stroke="#3c1f5a" stroke-width="1.5"/>
<text x="148.8" y="442.8" font-size="7.7" fill="#1a1a1a" stroke="#1a1a1a" stroke-width="0.35">BL60</text>
<line x1="136.1" y1="450.4" x2="145.7" y2="450.4" stroke="#e1a52a" stroke-width="1.5"/>
<text x="148.8" y="453.2" font-size="7.7" fill="#1a1a1a" stroke="#1a1a1a" stroke-width="0.35">BL7</text>
<line x1="216.1" y1="403.2" x2="216.1" y2="508" stroke="#111" stroke-width="1.5"/>
<line x1="212.3" y1="507.4" x2="216.1" y2="507.4" stroke="#111" stroke-width="1.2"/>
<text x="209.9" y="509.8" font-size="8.3" fill="#1a1a1a" stroke="#1a1a1a" stroke-width="0.35" text-anchor="end">0.0</text>
<line x1="212.3" y1="482.17" x2="216.1" y2="482.17" stroke="#111" stroke-width="1.2"/>
<text x="209.9" y="484.57" font-size="8.3" fill="#1a1a1a" stroke="#1a1a1a" stroke-width="0.35" text-anchor="end">0.5</text>
<line x1="212.3" y1="456.95" x2="216.1" y2="456.95" stroke="#111" stroke-width="1.2"/>
<text x="209.9" y="459.35" font-size="8.3" fill="#1a1a1a" stroke="#1a1a1a" stroke-width="0.35" text-anchor="end">1.0</text>
<line x1="212.3" y1="431.72" x2="216.1" y2="431.72" stroke="#111" stroke-width="1.2"/>
<text x="209.9" y="434.12" font-size="8.3" fill="#1a1a1a" stroke="#1a1a1a" stroke-width="0.35" text-anchor="end">1.5</text>
<line x1="212.3" y1="406.5" x2="216.1" y2="406.5" stroke="#111" stroke-width="1.2"/>
<text x="209.9" y="408.9" font-size="8.3" fill="#1a1a1a" stroke="#1a1a1a" stroke-width="0.35" text-anchor="end">2.0</text>
<line x1="224.7" y1="511.2" x2="333.1" y2="511.2" stroke="#111" stroke-width="1.5"/>
<line x1="228.2" y1="511.2" x2="228.2" y2="515" stroke="#111" stroke-width="1.2"/>
<text x="228.2" y="523.6" font-size="8.4" fill="#1a1a1a" stroke="#1a1a1a" stroke-width="0.35" text-anchor="middle">&#8722;3</text>
<line x1="254.05" y1="511.2" x2="254.05" y2="515" stroke="#111" stroke-width="1.2"/>
<text x="254.05" y="523.6" font-size="8.4" fill="#1a1a1a" stroke="#1a1a1a" stroke-width="0.35" text-anchor="middle">&#8722;2</text>
<line x1="279.9" y1="511.2" x2="279.9" y2="515" stroke="#111" stroke-width="1.2"/>
<text x="279.9" y="523.6" font-size="8.4" fill="#1a1a1a" stroke="#1a1a1a" stroke-width="0.35" text-anchor="middle">&#8722;1</text>
<line x1="305.75" y1="511.2" x2="305.75" y2="515" stroke="#111" stroke-width="1.2"/>
<text x="305.75" y="523.6" font-size="8.4" fill="#1a1a1a" stroke="#1a1a1a" stroke-width="0.35" text-anchor="middle">0</text>
<line x1="331.6" y1="511.2" x2="331.6" y2="515" stroke="#111" stroke-width="1.2"/>
<text x="331.6" y="523.6" font-size="8.4" fill="#1a1a1a" stroke="#1a1a1a" stroke-width="0.35" text-anchor="middle">1</text>
<text x="280" y="537.6" font-size="10.3" fill="#1a1a1a" stroke="#1a1a1a" stroke-width="0.35" text-anchor="middle" textLength="84.2" lengthAdjust="spacingAndGlyphs">Concentration (log10)</text>
<text x="191.8" y="456.6" font-size="8.6" fill="#1a1a1a" stroke="#1a1a1a" stroke-width="0.35" text-anchor="middle" textLength="61.5" lengthAdjust="spacingAndGlyphs" transform="rotate(-90 191.8 456.6)">Relative viability</text>
<text x="280.2" y="395" font-size="9.8" fill="#1a1a1a" stroke="#1a1a1a" stroke-width="0.35" text-anchor="middle">STA-9090</text>
<polyline points="220.44,442.84 221.38,442.84 222.31,442.85 223.25,442.86 224.18,442.87 225.12,442.89 226.05,442.92 226.98,442.96 227.92,443.01 228.85,443.09 229.79,443.19 230.72,443.33 231.65,443.53 232.59,443.81 233.52,444.18 234.46,444.71 235.39,445.42 236.32,446.39 237.26,447.68 238.19,449.4 239.13,451.64 240.06,454.47 240.99,457.97 241.93,462.12 242.86,466.84 243.8,471.94 244.73,477.18 245.67,482.26 246.6,486.94 247.53,491.04 248.47,494.48 249.4,497.27 250.34,499.46 251.27,501.14 252.2,502.41 253.14,503.36 254.07,504.05 255.01,504.56 255.94,504.93 256.87,505.2 257.81,505.39 258.74,505.53 259.68,505.63 260.61,505.7 261.54,505.75 262.48,505.79 263.41,505.82 264.35,505.84 265.28,505.85 266.21,505.86 267.15,505.87 268.08,505.87 269.02,505.88 269.95,505.88 270.89,505.88 271.82,505.88 272.75,505.88 273.69,505.88 274.62,505.89 275.56,505.89 276.49,505.89 277.42,505.89 278.36,505.89 279.29,505.89 280.23,505.89 281.16,505.89 282.09,505.89 283.03,505.89 283.96,505.89 284.9,505.89 285.83,505.89 286.76,505.89 287.7,505.89 288.63,505.89 289.57,505.89 290.5,505.89 291.43,505.89 292.37,505.89 293.3,505.89 294.24,505.89 295.17,505.89 296.11,505.89 297.04,505.89 297.97,505.89 298.91,505.89 299.84,505.89 300.78,505.89 301.71,505.89 302.64,505.89 303.58,505.89 304.51,505.89 305.45,505.89 306.38,505.89 307.31,505.89 308.25,505.89 309.18,505.89 310.12,505.89 311.05,505.89 311.98,505.89 312.92,505.89 313.85,505.89 314.79,505.89 315.72,505.89 316.65,505.89 317.59,505.89 318.52,505.89 319.46,505.89 320.39,505.89 321.33,505.89 322.26,505.89 323.19,505.89 324.13,505.89 325.06,505.89 326,505.89 326.93,505.89 327.86,505.89 328.8,505.89 329.73,505.89 330.67,505.89 331.6,505.89" fill="none" stroke="#e1a52a" stroke-width="1.8" stroke-linejoin="round"/>
<polyline points="220.44,446.15 221.38,446.23 222.31,446.32 223.25,446.43 224.18,446.56 225.12,446.73 226.05,446.94 226.98,447.2 227.92,447.52 228.85,447.91 229.79,448.38 230.72,448.96 231.65,449.67 232.59,450.51 233.52,451.53 234.46,452.74 235.39,454.17 236.32,455.84 237.26,457.77 238.19,459.96 239.13,462.41 240.06,465.11 240.99,468.01 241.93,471.07 242.86,474.24 243.8,477.42 244.73,480.57 245.67,483.59 246.6,486.44 247.53,489.06 248.47,491.44 249.4,493.55 250.34,495.4 251.27,497 252.2,498.36 253.14,499.51 254.07,500.48 255.01,501.28 255.94,501.95 256.87,502.49 257.81,502.94 258.74,503.31 259.68,503.61 260.61,503.85 261.54,504.05 262.48,504.21 263.41,504.34 264.35,504.44 265.28,504.53 266.21,504.59 267.15,504.65 268.08,504.69 269.02,504.73 269.95,504.76 270.89,504.78 271.82,504.8 272.75,504.81 273.69,504.83 274.62,504.84 275.56,504.84 276.49,504.85 277.42,504.86 278.36,504.86 279.29,504.86 280.23,504.87 281.16,504.87 282.09,504.87 283.03,504.87 283.96,504.87 284.9,504.87 285.83,504.87 286.76,504.88 287.7,504.88 288.63,504.88 289.57,504.88 290.5,504.88 291.43,504.88 292.37,504.88 293.3,504.88 294.24,504.88 295.17,504.88 296.11,504.88 297.04,504.88 297.97,504.88 298.91,504.88 299.84,504.88 300.78,504.88 301.71,504.88 302.64,504.88 303.58,504.88 304.51,504.88 305.45,504.88 306.38,504.88 307.31,504.88 308.25,504.88 309.18,504.88 310.12,504.88 311.05,504.88 311.98,504.88 312.92,504.88 313.85,504.88 314.79,504.88 315.72,504.88 316.65,504.88 317.59,504.88 318.52,504.88 319.46,504.88 320.39,504.88 321.33,504.88 322.26,504.88 323.19,504.88 324.13,504.88 325.06,504.88 326,504.88 326.93,504.88 327.86,504.88 328.8,504.88 329.73,504.88 330.67,504.88 331.6,504.88" fill="none" stroke="#6aae4c" stroke-width="1.8" stroke-linejoin="round"/>
<polyline points="220.44,454.43 221.38,454.43 222.31,454.43 223.25,454.43 224.18,454.43 225.12,454.43 226.05,454.44 226.98,454.44 227.92,454.44 228.85,454.45 229.79,454.46 230.72,454.48 231.65,454.5 232.59,454.54 233.52,454.58 234.46,454.65 235.39,454.76 236.32,454.91 237.26,455.12 238.19,455.43 239.13,455.87 240.06,456.5 240.99,457.38 241.93,458.6 242.86,460.27 243.8,462.49 244.73,465.34 245.67,468.83 246.6,472.91 247.53,477.36 248.47,481.93 249.4,486.29 250.34,490.18 251.27,493.47 252.2,496.1 253.14,498.12 254.07,499.64 255.01,500.74 255.94,501.53 256.87,502.09 257.81,502.48 258.74,502.75 259.68,502.94 260.61,503.07 261.54,503.16 262.48,503.23 263.41,503.27 264.35,503.3 265.28,503.32 266.21,503.33 267.15,503.34 268.08,503.35 269.02,503.35 269.95,503.36 270.89,503.36 271.82,503.36 272.75,503.36 273.69,503.36 274.62,503.36 275.56,503.36 276.49,503.36 277.42,503.36 278.36,503.36 279.29,503.36 280.23,503.36 281.16,503.36 282.09,503.36 283.03,503.36 283.96,503.36 284.9,503.36 285.83,503.36 286.76,503.36 287.7,503.36 288.63,503.36 289.57,503.36 290.5,503.36 291.43,503.36 292.37,503.36 293.3,503.36 294.24,503.36 295.17,503.36 296.11,503.36 297.04,503.36 297.97,503.36 298.91,503.36 299.84,503.36 300.78,503.36 301.71,503.36 302.64,503.36 303.58,503.36 304.51,503.36 305.45,503.36 306.38,503.36 307.31,503.36 308.25,503.36 309.18,503.36 310.12,503.36 311.05,503.36 311.98,503.36 312.92,503.36 313.85,503.36 314.79,503.36 315.72,503.36 316.65,503.36 317.59,503.36 318.52,503.36 319.46,503.36 320.39,503.36 321.33,503.36 322.26,503.36 323.19,503.36 324.13,503.36 325.06,503.36 326,503.36 326.93,503.36 327.86,503.36 328.8,503.36 329.73,503.36 330.67,503.36 331.6,503.36" fill="none" stroke="#27477e" stroke-width="1.8" stroke-linejoin="round"/>
<polyline points="220.44,453.66 221.38,453.72 222.31,453.79 223.25,453.88 224.18,453.99 225.12,454.12 226.05,454.29 226.98,454.5 227.92,454.75 228.85,455.06 229.79,455.44 230.72,455.91 231.65,456.47 232.59,457.15 233.52,457.97 234.46,458.95 235.39,460.11 236.32,461.46 237.26,463.03 238.19,464.82 239.13,466.83 240.06,469.06 240.99,471.47 241.93,474.03 242.86,476.69 243.8,479.39 244.73,482.06 245.67,484.66 246.6,487.11 247.53,489.39 248.47,491.46 249.4,493.31 250.34,494.93 251.27,496.34 252.2,497.55 253.14,498.57 254.07,499.43 255.01,500.15 255.94,500.74 256.87,501.23 257.81,501.63 258.74,501.96 259.68,502.22 260.61,502.44 261.54,502.62 262.48,502.76 263.41,502.88 264.35,502.97 265.28,503.05 266.21,503.11 267.15,503.16 268.08,503.2 269.02,503.23 269.95,503.26 270.89,503.28 271.82,503.29 272.75,503.31 273.69,503.32 274.62,503.33 275.56,503.33 276.49,503.34 277.42,503.34 278.36,503.35 279.29,503.35 280.23,503.35 281.16,503.36 282.09,503.36 283.03,503.36 283.96,503.36 284.9,503.36 285.83,503.36 286.76,503.36 287.7,503.36 288.63,503.36 289.57,503.36 290.5,503.36 291.43,503.36 292.37,503.36 293.3,503.36 294.24,503.36 295.17,503.36 296.11,503.36 297.04,503.36 297.97,503.36 298.91,503.36 299.84,503.36 300.78,503.36 301.71,503.36 302.64,503.36 303.58,503.36 304.51,503.36 305.45,503.36 306.38,503.36 307.31,503.36 308.25,503.36 309.18,503.36 310.12,503.36 311.05,503.36 311.98,503.36 312.92,503.36 313.85,503.36 314.79,503.36 315.72,503.36 316.65,503.36 317.59,503.36 318.52,503.36 319.46,503.36 320.39,503.36 321.33,503.36 322.26,503.36 323.19,503.36 324.13,503.36 325.06,503.36 326,503.36 326.93,503.36 327.86,503.36 328.8,503.36 329.73,503.36 330.67,503.36 331.6,503.36" fill="none" stroke="#3c1f5a" stroke-width="1.8" stroke-linejoin="round"/>
<polyline points="220.44,458.19 221.38,458.43 222.31,458.7 223.25,458.99 224.18,459.31 225.12,459.65 226.05,460.04 226.98,460.45 227.92,460.91 228.85,461.4 229.79,461.93 230.72,462.5 231.65,463.12 232.59,463.78 233.52,464.49 234.46,465.25 235.39,466.05 236.32,466.89 237.26,467.78 238.19,468.71 239.13,469.68 240.06,470.68 240.99,471.72 241.93,472.77 242.86,473.85 243.8,474.95 244.73,476.05 245.67,477.16 246.6,478.26 247.53,479.35 248.47,480.42 249.4,481.47 250.34,482.49 251.27,483.48 252.2,484.43 253.14,485.34 254.07,486.21 255.01,487.04 255.94,487.82 256.87,488.56 257.81,489.25 258.74,489.89 259.68,490.49 260.61,491.05 261.54,491.56 262.48,492.03 263.41,492.47 264.35,492.87 265.28,493.24 266.21,493.58 267.15,493.89 268.08,494.17 269.02,494.42 269.95,494.65 270.89,494.86 271.82,495.05 272.75,495.23 273.69,495.38 274.62,495.52 275.56,495.65 276.49,495.77 277.42,495.87 278.36,495.96 279.29,496.05 280.23,496.13 281.16,496.19 282.09,496.26 283.03,496.31 283.96,496.36 284.9,496.41 285.83,496.45 286.76,496.48 287.7,496.52 288.63,496.55 289.57,496.57 290.5,496.6 291.43,496.62 292.37,496.64 293.3,496.65 294.24,496.67 295.17,496.68 296.11,496.7 297.04,496.71 297.97,496.72 298.91,496.73 299.84,496.73 300.78,496.74 301.71,496.75 302.64,496.75 303.58,496.76 304.51,496.76 305.45,496.77 306.38,496.77 307.31,496.78 308.25,496.78 309.18,496.78 310.12,496.78 311.05,496.79 311.98,496.79 312.92,496.79 313.85,496.79 314.79,496.79 315.72,496.79 316.65,496.8 317.59,496.8 318.52,496.8 319.46,496.8 320.39,496.8 321.33,496.8 322.26,496.8 323.19,496.8 324.13,496.8 325.06,496.8 326,496.8 326.93,496.8 327.86,496.8 328.8,496.8 329.73,496.8 330.67,496.8 331.6,496.8" fill="none" stroke="#a5183f" stroke-width="1.8" stroke-linejoin="round"/>
<circle cx="220.6" cy="443.83" r="1.5" fill="#e1a52a"/>
<circle cx="232.94" cy="446.5" r="1.5" fill="#e1a52a"/>
<circle cx="245.27" cy="479.38" r="1.5" fill="#e1a52a"/>
<circle cx="257.6" cy="504.42" r="1.5" fill="#e1a52a"/>
<circle cx="269.93" cy="506.27" r="1.5" fill="#e1a52a"/>
<circle cx="282.27" cy="505.42" r="1.5" fill="#e1a52a"/>
<circle cx="294.6" cy="503.73" r="1.5" fill="#e1a52a"/>
<circle cx="306.93" cy="504.55" r="1.5" fill="#e1a52a"/>
<circle cx="319.27" cy="504.99" r="1.5" fill="#e1a52a"/>
<circle cx="331.6" cy="505.02" r="1.5" fill="#e1a52a"/>
<circle cx="220.6" cy="447.25" r="1.4" fill="#6aae4c"/>
<circle cx="232.94" cy="449.66" r="1.4" fill="#6aae4c"/>
<circle cx="245.27" cy="484.4" r="1.4" fill="#6aae4c"/>
<circle cx="257.6" cy="503.27" r="1.4" fill="#6aae4c"/>
<circle cx="269.93" cy="505.31" r="1.4" fill="#6aae4c"/>
<circle cx="282.27" cy="507.05" r="1.4" fill="#6aae4c"/>
<circle cx="294.6" cy="505.02" r="1.4" fill="#6aae4c"/>
<circle cx="306.93" cy="502.8" r="1.4" fill="#6aae4c"/>
<circle cx="319.27" cy="505.31" r="1.4" fill="#6aae4c"/>
<circle cx="331.6" cy="506.4" r="1.4" fill="#6aae4c"/>
<path d="M220.6,451.94 L223.1,456.34 L218.1,456.34 Z" fill="#27477e"/>
<path d="M232.94,450.87 L235.44,455.27 L230.44,455.27 Z" fill="#27477e"/>
<path d="M245.27,464.43 L247.77,468.83 L242.77,468.83 Z" fill="#27477e"/>
<path d="M257.6,499.81 L260.1,504.21 L255.1,504.21 Z" fill="#27477e"/>
<path d="M269.93,502.53 L272.43,506.93 L267.43,506.93 Z" fill="#27477e"/>
<path d="M282.27,500.13 L284.77,504.53 L279.77,504.53 Z" fill="#27477e"/>
<path d="M294.6,500.15 L297.1,504.55 L292.1,504.55 Z" fill="#27477e"/>
<path d="M306.93,499.07 L309.43,503.47 L304.43,503.47 Z" fill="#27477e"/>
<path d="M319.27,498.89 L321.77,503.29 L316.77,503.29 Z" fill="#27477e"/>
<path d="M331.6,499.9 L334.1,504.3 L329.1,504.3 Z" fill="#27477e"/>
<circle cx="220.6" cy="455.74" r="2.6" fill="#3c1f5a"/>
<circle cx="232.94" cy="459.25" r="2.6" fill="#3c1f5a"/>
<circle cx="245.27" cy="484.95" r="2.6" fill="#3c1f5a"/>
<circle cx="257.6" cy="501.18" r="2.6" fill="#3c1f5a"/>
<circle cx="269.93" cy="504.25" r="2.6" fill="#3c1f5a"/>
<circle cx="282.27" cy="501.71" r="2.6" fill="#3c1f5a"/>
<circle cx="294.6" cy="503.06" r="2.6" fill="#3c1f5a"/>
<circle cx="306.93" cy="502.9" r="2.6" fill="#3c1f5a"/>
<circle cx="319.27" cy="502.42" r="2.6" fill="#3c1f5a"/>
<circle cx="331.6" cy="502.93" r="2.6" fill="#3c1f5a"/>
<circle cx="220.6" cy="460.01" r="2.4" fill="#fff" stroke="#a5183f" stroke-width="1.3"/>
<circle cx="232.94" cy="460.95" r="2.4" fill="#fff" stroke="#a5183f" stroke-width="1.3"/>
<circle cx="245.27" cy="474.84" r="2.4" fill="#fff" stroke="#a5183f" stroke-width="1.3"/>
<circle cx="257.6" cy="487.18" r="2.4" fill="#fff" stroke="#a5183f" stroke-width="1.3"/>
<circle cx="269.93" cy="495.59" r="2.4" fill="#fff" stroke="#a5183f" stroke-width="1.3"/>
<circle cx="282.27" cy="498.6" r="2.4" fill="#fff" stroke="#a5183f" stroke-width="1.3"/>
<circle cx="294.6" cy="498.58" r="2.4" fill="#fff" stroke="#a5183f" stroke-width="1.3"/>
<circle cx="306.93" cy="498.1" r="2.4" fill="#fff" stroke="#a5183f" stroke-width="1.3"/>
<circle cx="319.27" cy="495.69" r="2.4" fill="#fff" stroke="#a5183f" stroke-width="1.3"/>
<circle cx="331.6" cy="495.67" r="2.4" fill="#fff" stroke="#a5183f" stroke-width="1.3"/>
<line x1="300.4" y1="408.8" x2="310" y2="408.8" stroke="#a5183f" stroke-width="1.5"/>
<text x="313.1" y="411.6" font-size="7.7" fill="#1a1a1a" stroke="#1a1a1a" stroke-width="0.35">Awia</text>
<line x1="300.4" y1="419.2" x2="310" y2="419.2" stroke="#27477e" stroke-width="1.5"/>
<text x="313.1" y="422" font-size="7.7" fill="#1a1a1a" stroke="#1a1a1a" stroke-width="0.35">BL2</text>
<line x1="300.4" y1="429.6" x2="310" y2="429.6" stroke="#6aae4c" stroke-width="1.5"/>
<text x="313.1" y="432.4" font-size="7.7" fill="#1a1a1a" stroke="#1a1a1a" stroke-width="0.35">BL41</text>
<line x1="300.4" y1="440" x2="310" y2="440" stroke="#3c1f5a" stroke-width="1.5"/>
<text x="313.1" y="442.8" font-size="7.7" fill="#1a1a1a" stroke="#1a1a1a" stroke-width="0.35">BL60</text>
<line x1="300.4" y1="450.4" x2="310" y2="450.4" stroke="#e1a52a" stroke-width="1.5"/>
<text x="313.1" y="453.2" font-size="7.7" fill="#1a1a1a" stroke="#1a1a1a" stroke-width="0.35">BL7</text>
<line x1="381.1" y1="403.2" x2="381.1" y2="508" stroke="#111" stroke-width="1.5"/>
<line x1="377.3" y1="507.4" x2="381.1" y2="507.4" stroke="#111" stroke-width="1.2"/>
<text x="374.9" y="509.8" font-size="8.3" fill="#1a1a1a" stroke="#1a1a1a" stroke-width="0.35" text-anchor="end">0.0</text>
<line x1="377.3" y1="482.17" x2="381.1" y2="482.17" stroke="#111" stroke-width="1.2"/>
<text x="374.9" y="484.57" font-size="8.3" fill="#1a1a1a" stroke="#1a1a1a" stroke-width="0.35" text-anchor="end">0.5</text>
<line x1="377.3" y1="456.95" x2="381.1" y2="456.95" stroke="#111" stroke-width="1.2"/>
<text x="374.9" y="459.35" font-size="8.3" fill="#1a1a1a" stroke="#1a1a1a" stroke-width="0.35" text-anchor="end">1.0</text>
<line x1="377.3" y1="431.72" x2="381.1" y2="431.72" stroke="#111" stroke-width="1.2"/>
<text x="374.9" y="434.12" font-size="8.3" fill="#1a1a1a" stroke="#1a1a1a" stroke-width="0.35" text-anchor="end">1.5</text>
<line x1="377.3" y1="406.5" x2="381.1" y2="406.5" stroke="#111" stroke-width="1.2"/>
<text x="374.9" y="408.9" font-size="8.3" fill="#1a1a1a" stroke="#1a1a1a" stroke-width="0.35" text-anchor="end">2.0</text>
<line x1="389.7" y1="511.2" x2="498.1" y2="511.2" stroke="#111" stroke-width="1.5"/>
<line x1="393.2" y1="511.2" x2="393.2" y2="515" stroke="#111" stroke-width="1.2"/>
<text x="393.2" y="523.6" font-size="8.4" fill="#1a1a1a" stroke="#1a1a1a" stroke-width="0.35" text-anchor="middle">&#8722;3</text>
<line x1="419.05" y1="511.2" x2="419.05" y2="515" stroke="#111" stroke-width="1.2"/>
<text x="419.05" y="523.6" font-size="8.4" fill="#1a1a1a" stroke="#1a1a1a" stroke-width="0.35" text-anchor="middle">&#8722;2</text>
<line x1="444.9" y1="511.2" x2="444.9" y2="515" stroke="#111" stroke-width="1.2"/>
<text x="444.9" y="523.6" font-size="8.4" fill="#1a1a1a" stroke="#1a1a1a" stroke-width="0.35" text-anchor="middle">&#8722;1</text>
<line x1="470.75" y1="511.2" x2="470.75" y2="515" stroke="#111" stroke-width="1.2"/>
<text x="470.75" y="523.6" font-size="8.4" fill="#1a1a1a" stroke="#1a1a1a" stroke-width="0.35" text-anchor="middle">0</text>
<line x1="496.6" y1="511.2" x2="496.6" y2="515" stroke="#111" stroke-width="1.2"/>
<text x="496.6" y="523.6" font-size="8.4" fill="#1a1a1a" stroke="#1a1a1a" stroke-width="0.35" text-anchor="middle">1</text>
<text x="445" y="537.6" font-size="10.3" fill="#1a1a1a" stroke="#1a1a1a" stroke-width="0.35" text-anchor="middle" textLength="84.2" lengthAdjust="spacingAndGlyphs">Concentration (log10)</text>
<text x="356.8" y="456.6" font-size="8.6" fill="#1a1a1a" stroke="#1a1a1a" stroke-width="0.35" text-anchor="middle" textLength="61.5" lengthAdjust="spacingAndGlyphs" transform="rotate(-90 356.8 456.6)">Relative viability</text>
<text x="444.9" y="395" font-size="9.8" fill="#1a1a1a" stroke="#1a1a1a" stroke-width="0.35" text-anchor="middle">PRT062607</text>
<polyline points="385.44,418.54 386.38,418.62 387.31,418.71 388.25,418.8 389.18,418.91 390.12,419.02 391.05,419.14 391.98,419.27 392.92,419.41 393.85,419.57 394.79,419.73 395.72,419.91 396.65,420.11 397.59,420.32 398.52,420.55 399.46,420.79 400.39,421.06 401.32,421.35 402.26,421.66 403.19,421.99 404.13,422.35 405.06,422.74 405.99,423.16 406.93,423.61 407.86,424.09 408.8,424.61 409.73,425.17 410.67,425.77 411.6,426.41 412.53,427.09 413.47,427.82 414.4,428.59 415.34,429.42 416.27,430.3 417.2,431.23 418.14,432.22 419.07,433.26 420.01,434.37 420.94,435.53 421.87,436.75 422.81,438.03 423.74,439.36 424.68,440.76 425.61,442.21 426.54,443.72 427.48,445.28 428.41,446.89 429.35,448.54 430.28,450.24 431.21,451.98 432.15,453.75 433.08,455.54 434.02,457.36 434.95,459.19 435.89,461.04 436.82,462.88 437.75,464.73 438.69,466.56 439.62,468.38 440.56,470.18 441.49,471.95 442.42,473.68 443.36,475.38 444.29,477.04 445.23,478.65 446.16,480.21 447.09,481.72 448.03,483.18 448.96,484.57 449.9,485.92 450.83,487.2 451.76,488.42 452.7,489.58 453.63,490.69 454.57,491.73 455.5,492.72 456.43,493.66 457.37,494.54 458.3,495.37 459.24,496.15 460.17,496.88 461.11,497.56 462.04,498.2 462.97,498.8 463.91,499.36 464.84,499.88 465.78,500.36 466.71,500.81 467.64,501.23 468.58,501.62 469.51,501.98 470.45,502.32 471.38,502.63 472.31,502.92 473.25,503.19 474.18,503.43 475.12,503.66 476.05,503.87 476.98,504.07 477.92,504.25 478.85,504.42 479.79,504.57 480.72,504.71 481.65,504.85 482.59,504.97 483.52,505.08 484.46,505.18 485.39,505.28 486.33,505.37 487.26,505.45 488.19,505.52 489.13,505.59 490.06,505.65 491,505.71 491.93,505.77 492.86,505.82 493.8,505.86 494.73,505.9 495.67,505.94 496.6,505.98" fill="none" stroke="#e1a52a" stroke-width="1.8" stroke-linejoin="round"/>
<polyline points="385.44,443.34 386.38,443.34 387.31,443.34 388.25,443.35 389.18,443.35 390.12,443.35 391.05,443.35 391.98,443.35 392.92,443.36 393.85,443.36 394.79,443.36 395.72,443.37 396.65,443.37 397.59,443.38 398.52,443.38 399.46,443.39 400.39,443.4 401.32,443.41 402.26,443.41 403.19,443.42 404.13,443.44 405.06,443.45 405.99,443.46 406.93,443.48 407.86,443.49 408.8,443.51 409.73,443.53 410.67,443.56 411.6,443.58 412.53,443.61 413.47,443.64 414.4,443.68 415.34,443.72 416.27,443.76 417.2,443.81 418.14,443.86 419.07,443.93 420.01,443.99 420.94,444.07 421.87,444.15 422.81,444.24 423.74,444.35 424.68,444.46 425.61,444.59 426.54,444.73 427.48,444.88 428.41,445.06 429.35,445.25 430.28,445.46 431.21,445.69 432.15,445.95 433.08,446.24 434.02,446.56 434.95,446.9 435.89,447.29 436.82,447.71 437.75,448.17 438.69,448.68 439.62,449.23 440.56,449.84 441.49,450.5 442.42,451.22 443.36,452 444.29,452.84 445.23,453.75 446.16,454.73 447.09,455.78 448.03,456.9 448.96,458.09 449.9,459.36 450.83,460.69 451.76,462.09 452.7,463.56 453.63,465.09 454.57,466.67 455.5,468.29 456.43,469.96 457.37,471.66 458.3,473.38 459.24,475.11 460.17,476.84 461.11,478.56 462.04,480.27 462.97,481.94 463.91,483.58 464.84,485.18 465.78,486.72 466.71,488.2 467.64,489.63 468.58,490.98 469.51,492.27 470.45,493.48 471.38,494.62 472.31,495.69 473.25,496.69 474.18,497.62 475.12,498.49 476.05,499.28 476.98,500.02 477.92,500.7 478.85,501.32 479.79,501.89 480.72,502.41 481.65,502.89 482.59,503.32 483.52,503.71 484.46,504.07 485.39,504.4 486.33,504.69 487.26,504.96 488.19,505.2 489.13,505.42 490.06,505.62 491,505.79 491.93,505.96 492.86,506.1 493.8,506.23 494.73,506.35 495.67,506.46 496.6,506.55" fill="none" stroke="#6aae4c" stroke-width="1.8" stroke-linejoin="round"/>
<polyline points="385.44,456.95 386.38,456.95 387.31,456.95 388.25,456.95 389.18,456.96 390.12,456.96 391.05,456.96 391.98,456.96 392.92,456.96 393.85,456.96 394.79,456.96 395.72,456.96 396.65,456.96 397.59,456.97 398.52,456.97 399.46,456.97 400.39,456.97 401.32,456.98 402.26,456.98 403.19,456.98 404.13,456.99 405.06,456.99 405.99,457 406.93,457 407.86,457.01 408.8,457.02 409.73,457.03 410.67,457.04 411.6,457.05 412.53,457.06 413.47,457.08 414.4,457.09 415.34,457.11 416.27,457.13 417.2,457.15 418.14,457.18 419.07,457.21 420.01,457.24 420.94,457.28 421.87,457.32 422.81,457.37 423.74,457.42 424.68,457.48 425.61,457.55 426.54,457.62 427.48,457.71 428.41,457.8 429.35,457.91 430.28,458.03 431.21,458.16 432.15,458.31 433.08,458.48 434.02,458.67 434.95,458.89 435.89,459.12 436.82,459.39 437.75,459.68 438.69,460.01 439.62,460.38 440.56,460.79 441.49,461.24 442.42,461.73 443.36,462.28 444.29,462.88 445.23,463.55 446.16,464.27 447.09,465.06 448.03,465.91 448.96,466.84 449.9,467.83 450.83,468.89 451.76,470.03 452.7,471.23 453.63,472.5 454.57,473.82 455.5,475.21 456.43,476.63 457.37,478.1 458.3,479.59 459.24,481.11 460.17,482.63 461.11,484.15 462.04,485.65 462.97,487.13 463.91,488.57 464.84,489.97 465.78,491.32 466.71,492.61 467.64,493.84 468.58,495 469.51,496.1 470.45,497.12 471.38,498.07 472.31,498.96 473.25,499.77 474.18,500.52 475.12,501.2 476.05,501.83 476.98,502.4 477.92,502.92 478.85,503.39 479.79,503.81 480.72,504.19 481.65,504.54 482.59,504.85 483.52,505.12 484.46,505.37 485.39,505.59 486.33,505.79 487.26,505.97 488.19,506.13 489.13,506.27 490.06,506.4 491,506.51 491.93,506.61 492.86,506.7 493.8,506.78 494.73,506.85 495.67,506.91 496.6,506.96" fill="none" stroke="#27477e" stroke-width="1.8" stroke-linejoin="round"/>
<polyline points="385.44,440.85 386.38,440.85 387.31,440.86 388.25,440.86 389.18,440.87 390.12,440.87 391.05,440.88 391.98,440.89 392.92,440.9 393.85,440.91 394.79,440.92 395.72,440.93 396.65,440.94 397.59,440.96 398.52,440.97 399.46,440.99 400.39,441.01 401.32,441.03 402.26,441.06 403.19,441.08 404.13,441.11 405.06,441.14 405.99,441.18 406.93,441.22 407.86,441.26 408.8,441.31 409.73,441.36 410.67,441.42 411.6,441.48 412.53,441.55 413.47,441.63 414.4,441.71 415.34,441.81 416.27,441.91 417.2,442.02 418.14,442.15 419.07,442.29 420.01,442.44 420.94,442.61 421.87,442.79 422.81,442.99 423.74,443.21 424.68,443.45 425.61,443.72 426.54,444.01 427.48,444.33 428.41,444.68 429.35,445.06 430.28,445.47 431.21,445.93 432.15,446.42 433.08,446.95 434.02,447.54 434.95,448.16 435.89,448.84 436.82,449.58 437.75,450.36 438.69,451.21 439.62,452.12 440.56,453.09 441.49,454.12 442.42,455.21 443.36,456.37 444.29,457.6 445.23,458.88 446.16,460.22 447.09,461.63 448.03,463.08 448.96,464.58 449.9,466.13 450.83,467.72 451.76,469.33 452.7,470.97 453.63,472.62 454.57,474.28 455.5,475.95 456.43,477.6 457.37,479.23 458.3,480.84 459.24,482.42 460.17,483.95 461.11,485.45 462.04,486.89 462.97,488.28 463.91,489.61 464.84,490.88 465.78,492.09 466.71,493.24 467.64,494.32 468.58,495.34 469.51,496.29 470.45,497.19 471.38,498.02 472.31,498.8 473.25,499.52 474.18,500.18 475.12,500.8 476.05,501.37 476.98,501.9 477.92,502.38 478.85,502.83 479.79,503.23 480.72,503.61 481.65,503.95 482.59,504.26 483.52,504.55 484.46,504.81 485.39,505.04 486.33,505.26 487.26,505.46 488.19,505.64 489.13,505.8 490.06,505.95 491,506.08 491.93,506.21 492.86,506.32 493.8,506.42 494.73,506.51 495.67,506.6 496.6,506.67" fill="none" stroke="#3c1f5a" stroke-width="1.8" stroke-linejoin="round"/>
<polyline points="385.44,440.53 386.38,440.55 387.31,440.56 388.25,440.58 389.18,440.6 390.12,440.62 391.05,440.64 391.98,440.66 392.92,440.68 393.85,440.71 394.79,440.73 395.72,440.76 396.65,440.79 397.59,440.82 398.52,440.85 399.46,440.89 400.39,440.93 401.32,440.97 402.26,441.01 403.19,441.05 404.13,441.1 405.06,441.15 405.99,441.21 406.93,441.26 407.86,441.33 408.8,441.39 409.73,441.46 410.67,441.53 411.6,441.61 412.53,441.69 413.47,441.78 414.4,441.87 415.34,441.97 416.27,442.08 417.2,442.19 418.14,442.31 419.07,442.43 420.01,442.56 420.94,442.7 421.87,442.85 422.81,443.01 423.74,443.18 424.68,443.35 425.61,443.54 426.54,443.74 427.48,443.95 428.41,444.17 429.35,444.4 430.28,444.65 431.21,444.91 432.15,445.19 433.08,445.48 434.02,445.78 434.95,446.11 435.89,446.45 436.82,446.8 437.75,447.18 438.69,447.57 439.62,447.99 440.56,448.42 441.49,448.88 442.42,449.36 443.36,449.86 444.29,450.38 445.23,450.93 446.16,451.5 447.09,452.09 448.03,452.71 448.96,453.35 449.9,454.02 450.83,454.71 451.76,455.43 452.7,456.18 453.63,456.95 454.57,457.74 455.5,458.56 456.43,459.4 457.37,460.26 458.3,461.15 459.24,462.05 460.17,462.98 461.11,463.93 462.04,464.89 462.97,465.87 463.91,466.87 464.84,467.87 465.78,468.89 466.71,469.92 467.64,470.96 468.58,472 469.51,473.04 470.45,474.09 471.38,475.14 472.31,476.18 473.25,477.22 474.18,478.25 475.12,479.28 476.05,480.29 476.98,481.29 477.92,482.28 478.85,483.25 479.79,484.21 480.72,485.15 481.65,486.06 482.59,486.96 483.52,487.84 484.46,488.69 485.39,489.52 486.33,490.33 487.26,491.11 488.19,491.87 489.13,492.6 490.06,493.31 491,493.99 491.93,494.65 492.86,495.28 493.8,495.89 494.73,496.47 495.67,497.03 496.6,497.56" fill="none" stroke="#a5183f" stroke-width="1.8" stroke-linejoin="round"/>
<circle cx="385.6" cy="412.05" r="1.5" fill="#e1a52a"/>
<circle cx="397.94" cy="422.14" r="1.5" fill="#e1a52a"/>
<circle cx="410.27" cy="429.2" r="1.5" fill="#e1a52a"/>
<circle cx="422.6" cy="436.77" r="1.5" fill="#e1a52a"/>
<circle cx="434.93" cy="457.96" r="1.5" fill="#e1a52a"/>
<circle cx="447.27" cy="484.19" r="1.5" fill="#e1a52a"/>
<circle cx="459.6" cy="501.85" r="1.5" fill="#e1a52a"/>
<circle cx="471.93" cy="505.38" r="1.5" fill="#e1a52a"/>
<circle cx="484.27" cy="505.89" r="1.5" fill="#e1a52a"/>
<circle cx="496.6" cy="504.88" r="1.5" fill="#e1a52a"/>
<circle cx="385.6" cy="449.38" r="1.4" fill="#6aae4c"/>
<circle cx="397.94" cy="442.32" r="1.4" fill="#6aae4c"/>
<circle cx="410.27" cy="443.33" r="1.4" fill="#6aae4c"/>
<circle cx="422.6" cy="444.34" r="1.4" fill="#6aae4c"/>
<circle cx="434.93" cy="446.86" r="1.4" fill="#6aae4c"/>
<circle cx="447.27" cy="456.95" r="1.4" fill="#6aae4c"/>
<circle cx="459.6" cy="473.09" r="1.4" fill="#6aae4c"/>
<circle cx="471.93" cy="494.79" r="1.4" fill="#6aae4c"/>
<circle cx="484.27" cy="504.88" r="1.4" fill="#6aae4c"/>
<circle cx="496.6" cy="506.39" r="1.4" fill="#6aae4c"/>
<path d="M385.6,455.36 L388.1,459.76 L383.1,459.76 Z" fill="#27477e"/>
<path d="M397.94,453.34 L400.44,457.74 L395.44,457.74 Z" fill="#27477e"/>
<path d="M410.27,452.84 L412.77,457.24 L407.77,457.24 Z" fill="#27477e"/>
<path d="M422.6,453.34 L425.1,457.74 L420.1,457.74 Z" fill="#27477e"/>
<path d="M434.93,455.36 L437.43,459.76 L432.43,459.76 Z" fill="#27477e"/>
<path d="M447.27,460.91 L449.77,465.31 L444.77,465.31 Z" fill="#27477e"/>
<path d="M459.6,470.49 L462.1,474.89 L457.1,474.89 Z" fill="#27477e"/>
<path d="M471.93,489.66 L474.43,494.06 L469.43,494.06 Z" fill="#27477e"/>
<path d="M484.27,502.28 L486.77,506.68 L481.77,506.68 Z" fill="#27477e"/>
<path d="M496.6,503.79 L499.1,508.19 L494.1,508.19 Z" fill="#27477e"/>
<circle cx="385.6" cy="438.79" r="2.6" fill="#3c1f5a"/>
<circle cx="397.94" cy="451.9" r="2.6" fill="#3c1f5a"/>
<circle cx="410.27" cy="433.24" r="2.6" fill="#3c1f5a"/>
<circle cx="422.6" cy="443.33" r="2.6" fill="#3c1f5a"/>
<circle cx="434.93" cy="453.42" r="2.6" fill="#3c1f5a"/>
<circle cx="447.27" cy="471.58" r="2.6" fill="#3c1f5a"/>
<circle cx="459.6" cy="484.19" r="2.6" fill="#3c1f5a"/>
<circle cx="471.93" cy="491.26" r="2.6" fill="#3c1f5a"/>
<circle cx="484.27" cy="505.89" r="2.6" fill="#3c1f5a"/>
<circle cx="496.6" cy="506.9" r="2.6" fill="#3c1f5a"/>
<circle cx="385.6" cy="443.83" r="2.4" fill="#fff" stroke="#a5183f" stroke-width="1.3"/>
<circle cx="397.94" cy="441.81" r="2.4" fill="#fff" stroke="#a5183f" stroke-width="1.3"/>
<circle cx="410.27" cy="438.79" r="2.4" fill="#fff" stroke="#a5183f" stroke-width="1.3"/>
<circle cx="422.6" cy="441.81" r="2.4" fill="#fff" stroke="#a5183f" stroke-width="1.3"/>
<circle cx="434.93" cy="446.86" r="2.4" fill="#fff" stroke="#a5183f" stroke-width="1.3"/>
<circle cx="447.27" cy="453.92" r="2.4" fill="#fff" stroke="#a5183f" stroke-width="1.3"/>
<circle cx="459.6" cy="465.02" r="2.4" fill="#fff" stroke="#a5183f" stroke-width="1.3"/>
<circle cx="471.93" cy="475.62" r="2.4" fill="#fff" stroke="#a5183f" stroke-width="1.3"/>
<circle cx="484.27" cy="491.26" r="2.4" fill="#fff" stroke="#a5183f" stroke-width="1.3"/>
<circle cx="496.6" cy="497.31" r="2.4" fill="#fff" stroke="#a5183f" stroke-width="1.3"/>
<line x1="465.1" y1="408.8" x2="474.7" y2="408.8" stroke="#a5183f" stroke-width="1.5"/>
<text x="477.8" y="411.6" font-size="7.7" fill="#1a1a1a" stroke="#1a1a1a" stroke-width="0.35">Awia</text>
<line x1="465.1" y1="419.2" x2="474.7" y2="419.2" stroke="#27477e" stroke-width="1.5"/>
<text x="477.8" y="422" font-size="7.7" fill="#1a1a1a" stroke="#1a1a1a" stroke-width="0.35">BL2</text>
<line x1="465.1" y1="429.6" x2="474.7" y2="429.6" stroke="#6aae4c" stroke-width="1.5"/>
<text x="477.8" y="432.4" font-size="7.7" fill="#1a1a1a" stroke="#1a1a1a" stroke-width="0.35">BL41</text>
<line x1="465.1" y1="440" x2="474.7" y2="440" stroke="#3c1f5a" stroke-width="1.5"/>
<text x="477.8" y="442.8" font-size="7.7" fill="#1a1a1a" stroke="#1a1a1a" stroke-width="0.35">BL60</text>
<line x1="465.1" y1="450.4" x2="474.7" y2="450.4" stroke="#e1a52a" stroke-width="1.5"/>
<text x="477.8" y="453.2" font-size="7.7" fill="#1a1a1a" stroke="#1a1a1a" stroke-width="0.35">BL7</text>
<text x="78.15" y="562.9" font-size="9.8" fill="#c6a468" text-anchor="middle" stroke="#c6a468" stroke-width="0.12">DG75</text>
<line x1="38.8" y1="568" x2="117.5" y2="568" stroke="#c8b086" stroke-width="1.6"/>
<text x="55.5" y="603" font-size="8" fill="#1a1a1a" stroke="#1a1a1a" stroke-width="0.35" transform="rotate(-45 55.5 603)">Input</text>
<text x="77.6" y="603" font-size="8" fill="#1a1a1a" stroke="#1a1a1a" stroke-width="0.35" transform="rotate(-45 77.6 603)">IgG</text>
<text x="105.3" y="603" font-size="8" fill="#1a1a1a" stroke="#1a1a1a" stroke-width="0.35" transform="rotate(-45 105.3 603)">IP: HSP90</text>
<text x="191.85" y="562.9" font-size="9.8" fill="#4f5d7f" text-anchor="middle" stroke="#4f5d7f" stroke-width="0.12">Daudi</text>
<line x1="152.5" y1="567.6" x2="231.2" y2="567.6" stroke="#6e7a94" stroke-width="1.6"/>
<text x="164.2" y="603" font-size="8" fill="#1a1a1a" stroke="#1a1a1a" stroke-width="0.35" transform="rotate(-45 164.2 603)">Input</text>
<text x="186.6" y="603" font-size="8" fill="#1a1a1a" stroke="#1a1a1a" stroke-width="0.35" transform="rotate(-45 186.6 603)">IgG</text>
<text x="214" y="603" font-size="8" fill="#1a1a1a" stroke="#1a1a1a" stroke-width="0.35" transform="rotate(-45 214 603)">IP: HSP90</text>
<rect x="39" y="605.4" width="78.5" height="15.9" fill="#e6e6e6" stroke="none"/>
<rect x="43" y="606" width="70" height="14" rx="7" fill="#999" fill-opacity="0.25" filter="url(#bl4)"/>
<rect x="44.85" y="611.7" width="4.5" height="2.6" rx="1.3" fill="#222" fill-opacity="0.7" filter="url(#bl2)"/>
<rect x="57.5" y="612.4" width="5" height="2.2" rx="1.1" fill="#444" fill-opacity="0.3" filter="url(#bl2)"/>
<rect x="69.5" y="611.5" width="9" height="5" rx="2.5" fill="#555" fill-opacity="0.3" filter="url(#bl3)"/>
<rect x="96" y="614" width="16" height="6" rx="3" fill="#777" fill-opacity="0.45" filter="url(#bl3)"/>
<rect x="96.45" y="611.6" width="15.5" height="5.8" rx="2.9" fill="#050505" fill-opacity="1" filter="url(#bl1)"/>
<rect x="39" y="605.4" width="78.5" height="15.9" fill="none" stroke="#111" stroke-width="1.5"/>
<line x1="35.4" y1="609.1" x2="39" y2="609.1" stroke="#111" stroke-width="1.2"/>
<text x="33.4" y="612.1" font-size="8.2" fill="#1a1a1a" stroke="#1a1a1a" stroke-width="0.35" text-anchor="end">75</text>
<line x1="39" y1="629.5" x2="62" y2="629.5" stroke="#111" stroke-width="1.4"/>
<line x1="93" y1="629.5" x2="117.5" y2="629.5" stroke="#111" stroke-width="1.4"/>
<text x="77.5" y="632.4" font-size="8.2" fill="#1a1a1a" stroke="#1a1a1a" stroke-width="0.35" text-anchor="middle"><tspan font-family="Liberation Serif" font-size="1.08em">&#945;</tspan>-SYK</text>
<rect x="39" y="638.8" width="78.5" height="16.8" fill="#ebebeb" stroke="none"/>
<rect x="40.5" y="641" width="75" height="12" rx="6" fill="#aaa" fill-opacity="0.25" filter="url(#bl4)"/>
<rect x="47.25" y="644.5" width="13.5" height="5.2" rx="2.6" fill="#050505" fill-opacity="1" filter="url(#bl1)"/>
<rect x="69.8" y="644.5" width="17" height="7" rx="3.5" fill="#3a3a3a" fill-opacity="0.6" filter="url(#bl3)"/>
<rect x="95.55" y="643.9" width="17.3" height="5.6" rx="2.8" fill="#050505" fill-opacity="1" filter="url(#bl1)"/>
<rect x="39" y="638.8" width="78.5" height="16.8" fill="none" stroke="#111" stroke-width="1.5"/>
<line x1="35.4" y1="650.6" x2="39" y2="650.6" stroke="#111" stroke-width="1.2"/>
<text x="33.4" y="653.6" font-size="8.2" fill="#1a1a1a" stroke="#1a1a1a" stroke-width="0.35" text-anchor="end">50</text>
<line x1="39" y1="663.8" x2="62" y2="663.8" stroke="#111" stroke-width="1.4"/>
<line x1="93" y1="663.8" x2="117.5" y2="663.8" stroke="#111" stroke-width="1.4"/>
<text x="77.5" y="666.7" font-size="8.2" fill="#1a1a1a" stroke="#1a1a1a" stroke-width="0.35" text-anchor="middle"><tspan font-family="Liberation Serif" font-size="1.08em">&#945;</tspan>-AKT</text>
<rect x="39" y="673.6" width="78.5" height="17.4" fill="#fafafa" stroke="none"/>
<rect x="47.25" y="681" width="13.5" height="3.4" rx="1.7" fill="#0a0a0a" fill-opacity="0.95" filter="url(#bl1)"/>
<rect x="73" y="681.5" width="10" height="3" rx="1.5" fill="#888" fill-opacity="0.15" filter="url(#bl2)"/>
<rect x="93.25" y="682.4" width="18.5" height="3" rx="1.5" fill="#2a2a2a" fill-opacity="0.72" filter="url(#bl1)"/>
<rect x="39" y="673.6" width="78.5" height="17.4" fill="none" stroke="#111" stroke-width="1.5"/>
<line x1="35.4" y1="683" x2="39" y2="683" stroke="#111" stroke-width="1.2"/>
<text x="33.4" y="686" font-size="8.2" fill="#1a1a1a" stroke="#1a1a1a" stroke-width="0.35" text-anchor="end">90</text>
<line x1="39" y1="699.5" x2="58.5" y2="699.5" stroke="#111" stroke-width="1.4"/>
<line x1="96.5" y1="699.5" x2="117.5" y2="699.5" stroke="#111" stroke-width="1.4"/>
<text x="77.5" y="702.4" font-size="8.2" fill="#1a1a1a" stroke="#1a1a1a" stroke-width="0.35" text-anchor="middle"><tspan font-family="Liberation Serif" font-size="1.08em">&#945;</tspan>-HSP90</text>
<rect x="151.6" y="605.2" width="78" height="16.5" fill="#ececec" stroke="none"/>
<rect x="152.5" y="606" width="75" height="14" rx="7" fill="#aaa" fill-opacity="0.2" filter="url(#bl4)"/>
<rect x="154.5" y="609.3" width="19" height="8.2" rx="4.5" fill="#000" fill-opacity="1" filter="url(#bl1)"/>
<rect x="180" y="611" width="10" height="6" rx="3" fill="#bbb" fill-opacity="0.2" filter="url(#bl3)"/>
<rect x="201" y="610.7" width="24" height="5" rx="2.5" fill="#999" fill-opacity="0.5" filter="url(#bl2)"/>
<rect x="151.6" y="605.2" width="78" height="16.5" fill="none" stroke="#111" stroke-width="1.5"/>
<line x1="148" y1="607" x2="151.6" y2="607" stroke="#111" stroke-width="1.2"/>
<text x="146" y="610" font-size="8.2" fill="#1a1a1a" stroke="#1a1a1a" stroke-width="0.35" text-anchor="end">75</text>
<line x1="151.6" y1="629.4" x2="174.8" y2="629.4" stroke="#111" stroke-width="1.4"/>
<line x1="203" y1="629.4" x2="229.6" y2="629.4" stroke="#111" stroke-width="1.4"/>
<text x="188.9" y="632.3" font-size="8.2" fill="#1a1a1a" stroke="#1a1a1a" stroke-width="0.35" text-anchor="middle"><tspan font-family="Liberation Serif" font-size="1.08em">&#945;</tspan>-SYK</text>
<rect x="151.6" y="639.5" width="78" height="16.2" fill="#f9f9f9" stroke="none"/>
<rect x="155.45" y="644.7" width="17.5" height="3.4" rx="1.7" fill="#0a0a0a" fill-opacity="0.95" filter="url(#bl1)"/>
<rect x="183" y="646" width="8" height="2" rx="1" fill="#999" fill-opacity="0.12" filter="url(#bl2)"/>
<rect x="205.5" y="646.2" width="19" height="2.8" rx="1.4" fill="#666" fill-opacity="0.45" filter="url(#bl2)"/>
<rect x="151.6" y="639.5" width="78" height="16.2" fill="none" stroke="#111" stroke-width="1.5"/>
<line x1="148" y1="648.8" x2="151.6" y2="648.8" stroke="#111" stroke-width="1.2"/>
<text x="146" y="651.8" font-size="8.2" fill="#1a1a1a" stroke="#1a1a1a" stroke-width="0.35" text-anchor="end">50</text>
<line x1="151.6" y1="663.8" x2="174.8" y2="663.8" stroke="#111" stroke-width="1.4"/>
<line x1="203" y1="663.8" x2="229.6" y2="663.8" stroke="#111" stroke-width="1.4"/>
<text x="188.9" y="666.7" font-size="8.2" fill="#1a1a1a" stroke="#1a1a1a" stroke-width="0.35" text-anchor="middle"><tspan font-family="Liberation Serif" font-size="1.08em">&#945;</tspan>-AKT</text>
<rect x="151.6" y="674.1" width="78" height="16.8" fill="#fafafa" stroke="none"/>
<rect x="155.9" y="681.6" width="17" height="3.6" rx="1.8" fill="#0a0a0a" fill-opacity="0.95" filter="url(#bl1)"/>
<rect x="178.5" y="678.5" width="12" height="9" rx="4.5" fill="#aaa" fill-opacity="0.2" filter="url(#bl3)"/>
<rect x="201.95" y="680.8" width="24.5" height="5.2" rx="2.6" fill="#000" fill-opacity="1" filter="url(#bl1)"/>
<rect x="151.6" y="674.1" width="78" height="16.8" fill="none" stroke="#111" stroke-width="1.5"/>
<line x1="148" y1="685.5" x2="151.6" y2="685.5" stroke="#111" stroke-width="1.2"/>
<text x="146" y="688.5" font-size="8.2" fill="#1a1a1a" stroke="#1a1a1a" stroke-width="0.35" text-anchor="end">90</text>
<line x1="151.6" y1="699.5" x2="170.8" y2="699.5" stroke="#111" stroke-width="1.4"/>
<line x1="209" y1="699.5" x2="229.6" y2="699.5" stroke="#111" stroke-width="1.4"/>
<text x="189.9" y="702.4" font-size="8.2" fill="#1a1a1a" stroke="#1a1a1a" stroke-width="0.35" text-anchor="middle"><tspan font-family="Liberation Serif" font-size="1.08em">&#945;</tspan>-HSP90</text>
<text x="311.2" y="589.3" font-size="9.8" fill="#c6a468" text-anchor="middle" stroke="#c6a468" stroke-width="0.12">DG75</text>
<line x1="271.9" y1="593.8" x2="350.5" y2="593.8" stroke="#c8b086" stroke-width="1.6"/>
<text x="289.6" y="621" font-size="8.6" fill="#1a1a1a" stroke="#1a1a1a" stroke-width="0.35" transform="rotate(-47 289.6 621)">Input</text>
<text x="312.5" y="621" font-size="8.6" fill="#1a1a1a" stroke="#1a1a1a" stroke-width="0.35" transform="rotate(-47 312.5 621)">IgG</text>
<text x="337.2" y="621" font-size="8.6" fill="#1a1a1a" stroke="#1a1a1a" stroke-width="0.35" transform="rotate(-47 337.2 621)">IP: SYK</text>
<text x="424.4" y="589.3" font-size="9.8" fill="#4f5d7f" text-anchor="middle" stroke="#4f5d7f" stroke-width="0.12">Daudi</text>
<line x1="385.2" y1="593.8" x2="463.6" y2="593.8" stroke="#6e7a94" stroke-width="1.6"/>
<text x="403.3" y="621" font-size="8.6" fill="#1a1a1a" stroke="#1a1a1a" stroke-width="0.35" transform="rotate(-47 403.3 621)">Input</text>
<text x="426.3" y="621" font-size="8.6" fill="#1a1a1a" stroke="#1a1a1a" stroke-width="0.35" transform="rotate(-47 426.3 621)">IgG</text>
<text x="453.2" y="621" font-size="8.6" fill="#1a1a1a" stroke="#1a1a1a" stroke-width="0.35" transform="rotate(-47 453.2 621)">IP: SYK</text>
<rect x="273.2" y="626.1" width="77" height="15.5" fill="#f2f2f2" stroke="none"/>
<rect x="272" y="626" width="40" height="16" rx="8" fill="#777" fill-opacity="0.45" filter="url(#bl4)"/>
<rect x="275.7" y="627.9" width="26" height="12.4" rx="6.5" fill="#000" fill-opacity="1" filter="url(#bl1)"/>
<rect x="327.5" y="629.1" width="20" height="4.6" rx="2.3" fill="#777" fill-opacity="0.45" filter="url(#bl2)"/>
<rect x="343.75" y="629.05" width="3.5" height="3.5" rx="1.75" fill="#333" fill-opacity="0.5" filter="url(#bl1)"/>
<rect x="273.2" y="626.1" width="77" height="15.5" fill="none" stroke="#111" stroke-width="1.5"/>
<line x1="269.6" y1="635.5" x2="273.2" y2="635.5" stroke="#111" stroke-width="1.2"/>
<text x="267.6" y="638.5" font-size="8.2" fill="#1a1a1a" stroke="#1a1a1a" stroke-width="0.35" text-anchor="end">90</text>
<line x1="273.2" y1="647.8" x2="290.5" y2="647.8" stroke="#111" stroke-width="1.4"/>
<line x1="332" y1="647.8" x2="350.2" y2="647.8" stroke="#111" stroke-width="1.4"/>
<text x="311.25" y="650.7" font-size="8.6" fill="#1a1a1a" stroke="#1a1a1a" stroke-width="0.35" text-anchor="middle"><tspan font-family="Liberation Serif" font-size="1.08em">&#945;</tspan>-HSP90</text>
<rect x="273.2" y="659.8" width="77" height="15.9" fill="#f8f8f8" stroke="none"/>
<rect x="279.25" y="666.7" width="17.5" height="3.6" rx="1.8" fill="#0a0a0a" fill-opacity="0.92" filter="url(#bl1)"/>
<rect x="327.95" y="665" width="20.5" height="4.2" rx="2.1" fill="#000" fill-opacity="1" filter="url(#bl1)"/>
<rect x="273.2" y="659.8" width="77" height="15.9" fill="none" stroke="#111" stroke-width="1.5"/>
<line x1="269.6" y1="661.5" x2="273.2" y2="661.5" stroke="#111" stroke-width="1.2"/>
<text x="267.6" y="664.5" font-size="8.2" fill="#1a1a1a" stroke="#1a1a1a" stroke-width="0.35" text-anchor="end">75</text>
<line x1="273.2" y1="681.5" x2="298" y2="681.5" stroke="#111" stroke-width="1.4"/>
<line x1="326" y1="681.5" x2="350.2" y2="681.5" stroke="#111" stroke-width="1.4"/>
<text x="312" y="684.4" font-size="8.6" fill="#1a1a1a" stroke="#1a1a1a" stroke-width="0.35" text-anchor="middle"><tspan font-family="Liberation Serif" font-size="1.08em">&#945;</tspan>-SYK</text>
<rect x="386.6" y="625.8" width="77.8" height="15.7" fill="#f2f2f2" stroke="none"/>
<rect x="382" y="626" width="40" height="16" rx="8" fill="#777" fill-opacity="0.45" filter="url(#bl4)"/>
<rect x="388.45" y="627.6" width="25.5" height="11.8" rx="6.5" fill="#000" fill-opacity="1" filter="url(#bl1)"/>
<rect x="441.5" y="629" width="21" height="4" rx="2" fill="#666" fill-opacity="0.5" filter="url(#bl2)"/>
<rect x="386.6" y="625.8" width="77.8" height="15.7" fill="none" stroke="#111" stroke-width="1.5"/>
<line x1="383" y1="635.8" x2="386.6" y2="635.8" stroke="#111" stroke-width="1.2"/>
<text x="381" y="638.8" font-size="8.2" fill="#1a1a1a" stroke="#1a1a1a" stroke-width="0.35" text-anchor="end">90</text>
<line x1="386.6" y1="647.8" x2="404" y2="647.8" stroke="#111" stroke-width="1.4"/>
<line x1="445.5" y1="647.8" x2="464.4" y2="647.8" stroke="#111" stroke-width="1.4"/>
<text x="424.75" y="650.7" font-size="8.6" fill="#1a1a1a" stroke="#1a1a1a" stroke-width="0.35" text-anchor="middle"><tspan font-family="Liberation Serif" font-size="1.08em">&#945;</tspan>-HSP90</text>
<rect x="386.6" y="659.5" width="77.8" height="15.9" fill="#f8f8f8" stroke="none"/>
<rect x="390.75" y="666.1" width="18.5" height="3.2" rx="1.6" fill="#222" fill-opacity="0.85" filter="url(#bl1)"/>
<rect x="441.25" y="664.7" width="20.5" height="4" rx="2" fill="#000" fill-opacity="1" filter="url(#bl1)"/>
<rect x="386.6" y="659.5" width="77.8" height="15.9" fill="none" stroke="#111" stroke-width="1.5"/>
<line x1="383" y1="660.8" x2="386.6" y2="660.8" stroke="#111" stroke-width="1.2"/>
<text x="381" y="663.8" font-size="8.2" fill="#1a1a1a" stroke="#1a1a1a" stroke-width="0.35" text-anchor="end">75</text>
<line x1="386.6" y1="681.5" x2="411.5" y2="681.5" stroke="#111" stroke-width="1.4"/>
<line x1="438.5" y1="681.5" x2="464.4" y2="681.5" stroke="#111" stroke-width="1.4"/>
<text x="425" y="684.4" font-size="8.6" fill="#1a1a1a" stroke="#1a1a1a" stroke-width="0.35" text-anchor="middle"><tspan font-family="Liberation Serif" font-size="1.08em">&#945;</tspan>-SYK</text>
<text x="6.8" y="16.2" font-size="11.6" fill="#111" font-weight="bold">A</text>
<text x="6.7" y="174.8" font-size="11.6" fill="#111" font-weight="bold">B</text>
<text x="312.6" y="174.8" font-size="11.6" fill="#111" font-weight="bold">C</text>
<text x="6.8" y="393.9" font-size="11.6" fill="#111" font-weight="bold">D</text>
<text x="7.2" y="562.6" font-size="11.6" fill="#111" font-weight="bold">E</text>
<text x="258.8" y="562.7" font-size="11.6" fill="#111" font-weight="bold">F</text>
<rect x="0.75" y="0.75" width="518.5" height="707.5" fill="none" stroke="#000" stroke-width="1.6"/>
</svg>
</body></html>
